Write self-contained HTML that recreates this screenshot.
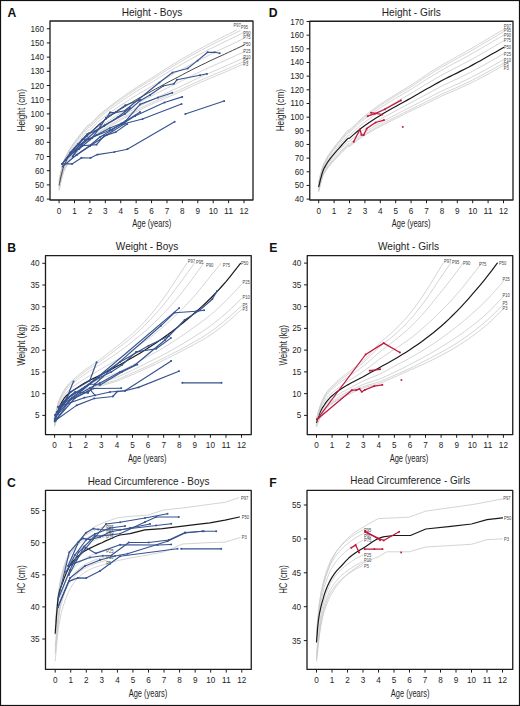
<!DOCTYPE html><html><head><meta charset="utf-8"><style>html,body{margin:0;padding:0;background:#fff;width:520px;height:706px;overflow:hidden}svg{display:block}</style></head><body><svg width="520" height="706" viewBox="0 0 520 706" font-family='"Liberation Sans", sans-serif'><rect x="0" y="0" width="520" height="706" fill="#fff"/><path d="M59.1,190.1 59.4,188.8 59.9,186.8 60.3,184.7 60.9,182.0 61.6,179.3 62.2,176.8 63.0,174.1 63.7,171.8 64.5,170.0 65.3,168.4 66.8,165.5 68.3,163.0 69.9,160.9 71.4,158.8 73.0,156.8 74.5,155.0 76.8,152.5 79.1,150.1 81.4,147.7 83.8,145.4 86.8,142.4 88.4,141.1 89.9,140.9 91.5,139.7 93.8,137.7 97.6,134.4 101.5,131.6 105.3,129.1 109.2,126.8 113.0,124.5 116.9,122.4 120.7,120.2 124.6,118.0 128.4,115.9 132.3,113.8 136.2,111.7 140.0,109.8 143.9,107.9 147.7,106.1 151.6,104.3 155.4,102.6 159.3,100.9 163.1,99.2 167.0,97.5 170.8,95.8 174.7,94.2 178.5,92.5 182.4,90.8 186.2,89.0 190.1,87.2 193.9,85.4 197.8,83.6 201.6,81.9 205.5,80.3 209.3,78.7 213.2,77.0 217.1,75.4 220.9,73.8 224.8,72.2 228.6,70.6 232.5,68.9 236.3,67.2 240.2,65.5 244.0,63.8" fill="none" stroke="#c9c9c9" stroke-width="0.8" stroke-linejoin="round" stroke-linecap="round" />
<path d="M59.1,189.5 59.4,188.2 59.9,186.1 60.3,184.1 60.9,181.3 61.6,178.6 62.2,176.1 63.0,173.4 63.7,171.2 64.5,169.3 65.3,167.7 66.8,164.8 68.3,162.3 69.9,160.1 71.4,158.0 73.0,156.0 74.5,154.1 76.8,151.6 79.1,149.2 81.4,146.8 83.8,144.4 86.8,141.4 88.4,140.1 89.9,139.9 91.5,138.7 93.8,136.6 97.6,133.2 101.5,130.4 105.3,127.9 109.2,125.5 113.0,123.2 116.9,121.0 120.7,118.8 124.6,116.6 128.4,114.4 132.3,112.3 136.2,110.2 140.0,108.3 143.9,106.3 147.7,104.5 151.6,102.7 155.4,100.9 159.3,99.1 163.1,97.4 167.0,95.7 170.8,94.0 174.7,92.2 178.5,90.5 182.4,88.8 186.2,87.0 190.1,85.1 193.9,83.3 197.8,81.5 201.6,79.8 205.5,78.1 209.3,76.5 213.2,74.8 217.1,73.2 220.9,71.6 224.8,70.0 228.6,68.3 232.5,66.6 236.3,64.9 240.2,63.2 244.0,61.4" fill="none" stroke="#c9c9c9" stroke-width="0.8" stroke-linejoin="round" stroke-linecap="round" />
<path d="M59.1,188.5 59.4,187.2 59.9,185.2 60.3,183.1 60.9,180.3 61.6,177.6 62.2,175.1 63.0,172.4 63.7,170.1 64.5,168.2 65.3,166.6 66.8,163.7 68.3,161.1 69.9,158.9 71.4,156.8 73.0,154.7 74.5,152.9 76.8,150.3 79.1,147.8 81.4,145.4 83.8,143.0 86.8,139.9 88.4,138.5 89.9,138.3 91.5,137.1 93.8,135.0 97.6,131.5 101.5,128.6 105.3,126.0 109.2,123.6 113.0,121.3 116.9,119.0 120.7,116.7 124.6,114.4 128.4,112.2 132.3,110.0 136.2,107.9 140.0,105.9 143.9,103.9 147.7,102.0 151.6,100.1 155.4,98.3 159.3,96.4 163.1,94.6 167.0,92.8 170.8,91.0 174.7,89.3 178.5,87.5 182.4,85.7 186.2,83.8 190.1,81.9 193.9,80.1 197.8,78.3 201.6,76.5 205.5,74.8 209.3,73.1 213.2,71.4 217.1,69.8 220.9,68.1 224.8,66.5 228.6,64.8 232.5,63.1 236.3,61.3 240.2,59.6 244.0,57.8" fill="none" stroke="#c9c9c9" stroke-width="0.8" stroke-linejoin="round" stroke-linecap="round" />
<path d="M59.1,186.9 59.4,185.5 59.9,183.5 60.3,181.4 60.9,178.6 61.6,175.9 62.2,173.4 63.0,170.6 63.7,168.4 64.5,166.5 65.3,164.9 66.8,161.9 68.3,159.3 69.9,157.0 71.4,154.8 73.0,152.7 74.5,150.8 76.8,148.1 79.1,145.5 81.4,143.0 83.8,140.5 86.8,137.3 88.4,135.9 89.9,135.6 91.5,134.3 93.8,132.2 97.6,128.6 101.5,125.6 105.3,122.9 109.2,120.4 113.0,117.9 116.9,115.5 120.7,113.2 124.6,110.8 128.4,108.5 132.3,106.2 136.2,104.0 140.0,101.9 143.9,99.9 147.7,97.9 151.6,95.9 155.4,93.9 159.3,92.0 163.1,90.0 167.0,88.1 170.8,86.2 174.7,84.3 178.5,82.4 182.4,80.5 186.2,78.6 190.1,76.6 193.9,74.7 197.8,72.8 201.6,71.0 205.5,69.2 209.3,67.5 213.2,65.7 217.1,64.0 220.9,62.3 224.8,60.6 228.6,58.9 232.5,57.1 236.3,55.3 240.2,53.6 244.0,51.8" fill="none" stroke="#c9c9c9" stroke-width="0.8" stroke-linejoin="round" stroke-linecap="round" />
<path d="M59.1,183.2 59.4,181.9 59.9,179.8 60.3,177.7 60.9,174.9 61.6,172.2 62.2,169.6 63.0,166.8 63.7,164.5 64.5,162.6 65.3,160.9 66.8,157.9 68.3,155.1 69.9,152.7 71.4,150.3 73.0,148.1 74.5,146.1 76.8,143.2 79.1,140.4 81.4,137.7 83.8,135.0 86.8,131.5 88.4,130.0 89.9,129.7 91.5,128.3 93.8,126.0 97.6,122.2 101.5,119.0 105.3,116.0 109.2,113.2 113.0,110.5 116.9,107.9 120.7,105.3 124.6,102.8 128.4,100.3 132.3,97.8 136.2,95.4 140.0,93.1 143.9,90.9 147.7,88.7 151.6,86.5 155.4,84.3 159.3,82.0 163.1,79.8 167.0,77.6 170.8,75.4 174.7,73.2 178.5,71.1 182.4,69.0 186.2,66.9 190.1,64.8 193.9,62.8 197.8,60.8 201.6,58.8 205.5,56.9 209.3,55.0 213.2,53.1 217.1,51.2 220.9,49.4 224.8,47.6 228.6,45.8 232.5,43.9 236.3,42.1 240.2,40.2 244.0,38.4" fill="none" stroke="#c9c9c9" stroke-width="0.8" stroke-linejoin="round" stroke-linecap="round" />
<path d="M59.1,181.6 59.4,180.2 59.9,178.2 60.3,176.0 60.9,173.2 61.6,170.5 62.2,167.9 63.0,165.1 63.7,162.8 64.5,160.8 65.3,159.2 66.8,156.1 68.3,153.2 69.9,150.7 71.4,148.3 73.0,146.1 74.5,144.0 76.8,141.0 79.1,138.1 81.4,135.3 83.8,132.5 86.8,129.0 88.4,127.4 89.9,127.0 91.5,125.6 93.8,123.2 97.6,119.3 101.5,116.0 105.3,112.9 109.2,110.0 113.0,107.2 116.9,104.5 120.7,101.8 124.6,99.1 128.4,96.5 132.3,94.0 136.2,91.5 140.0,89.2 143.9,86.9 147.7,84.6 151.6,82.3 155.4,79.9 159.3,77.5 163.1,75.2 167.0,72.8 170.8,70.5 174.7,68.3 178.5,66.0 182.4,63.8 186.2,61.7 190.1,59.5 193.9,57.4 197.8,55.3 201.6,53.3 205.5,51.3 209.3,49.3 213.2,47.4 217.1,45.5 220.9,43.6 224.8,41.7 228.6,39.9 232.5,38.0 236.3,36.1 240.2,34.2 244.0,32.3" fill="none" stroke="#c9c9c9" stroke-width="0.8" stroke-linejoin="round" stroke-linecap="round" />
<path d="M59.1,180.6 59.4,179.3 59.9,177.2 60.3,175.0 60.9,172.2 61.6,169.5 62.2,166.9 63.0,164.1 63.7,161.7 64.5,159.8 65.3,158.1 66.8,155.0 68.3,152.1 69.9,149.5 71.4,147.1 73.0,144.8 74.5,142.7 76.8,139.7 79.1,136.7 81.4,133.9 83.8,131.1 86.8,127.4 88.4,125.8 89.9,125.4 91.5,124.0 93.8,121.6 97.6,117.6 101.5,114.2 105.3,111.1 109.2,108.1 113.0,105.2 116.9,102.4 120.7,99.7 124.6,97.0 128.4,94.3 132.3,91.7 136.2,89.2 140.0,86.8 143.9,84.5 147.7,82.1 151.6,79.8 155.4,77.3 159.3,74.9 163.1,72.4 167.0,70.0 170.8,67.6 174.7,65.3 178.5,63.0 182.4,60.7 186.2,58.5 190.1,56.3 193.9,54.2 197.8,52.1 201.6,50.0 205.5,48.0 209.3,46.0 213.2,44.0 217.1,42.0 220.9,40.1 224.8,38.2 228.6,36.3 232.5,34.4 236.3,32.5 240.2,30.6" fill="none" stroke="#c9c9c9" stroke-width="0.8" stroke-linejoin="round" stroke-linecap="round" />
<path d="M59.1,180.0 59.4,178.6 59.9,176.5 60.3,174.4 60.9,171.6 61.6,168.8 62.2,166.2 63.0,163.4 63.7,161.0 64.5,159.1 65.3,157.4 66.8,154.3 68.3,151.4 69.9,148.8 71.4,146.3 73.0,144.0 74.5,141.9 76.8,138.8 79.1,135.8 81.4,133.0 83.8,130.1 86.8,126.4 88.4,124.8 89.9,124.4 91.5,122.9 93.8,120.5 97.6,116.5 101.5,113.0 105.3,109.8 109.2,106.9 113.0,103.9 116.9,101.1 120.7,98.3 124.6,95.6 128.4,92.9 132.3,90.3 136.2,87.7 140.0,85.3 143.9,82.9 147.7,80.5 151.6,78.1 155.4,75.6 159.3,73.1 163.1,70.6 167.0,68.1 170.8,65.7 174.7,63.4 178.5,61.0 182.4,58.7 186.2,56.5 190.1,54.3 193.9,52.1 197.8,50.0 201.6,47.9 205.5,45.8 209.3,43.8 213.2,41.8 217.1,39.8 220.9,37.9 224.8,35.9 228.6,34.0 232.5,32.1 236.3,30.2" fill="none" stroke="#c9c9c9" stroke-width="0.8" stroke-linejoin="round" stroke-linecap="round" />
<path d="M59.1,185.0 59.4,183.7 59.9,181.7 60.3,179.6 60.9,176.8 61.6,174.0 62.2,171.5 63.0,168.7 63.7,166.4 64.5,164.5 65.3,162.9 66.8,159.9 68.3,157.2 69.9,154.8 71.4,152.5 73.0,150.4 74.5,148.4 76.8,145.6 79.1,143.0 81.4,140.3 83.8,137.7 86.8,134.4 88.4,132.9 89.9,132.7 91.5,131.3 93.8,129.1 97.6,125.4 101.5,122.3 105.3,119.5 109.2,116.8 113.0,114.2 116.9,111.7 120.7,109.2 124.6,106.8 128.4,104.4 132.3,102.0 136.2,99.7 140.0,97.5 143.9,95.4 147.7,93.3 151.6,91.2 155.4,89.1 159.3,87.0 163.1,84.9 167.0,82.8 170.8,80.8 174.7,78.8 178.5,76.8 182.4,74.7 186.2,72.7 190.1,70.7 193.9,68.7 197.8,66.8 201.6,64.9 205.5,63.1 209.3,61.2 213.2,59.4 217.1,57.6 220.9,55.9 224.8,54.1 228.6,52.3 232.5,50.5 236.3,48.7 240.2,46.9 244.0,45.1" fill="none" stroke="#3a3a3a" stroke-width="0.95" stroke-linejoin="round" stroke-linecap="round" />
<text x="233.4" y="27.3" font-size="4.9" fill="#444" textLength="7.3" lengthAdjust="spacingAndGlyphs">P97</text>
<text x="240.7" y="28.6" font-size="4.9" fill="#444" textLength="7.3" lengthAdjust="spacingAndGlyphs">P95</text>
<text x="243.3" y="34.5" font-size="4.9" fill="#444" textLength="7.3" lengthAdjust="spacingAndGlyphs">P90</text>
<text x="243.3" y="39.0" font-size="4.9" fill="#444" textLength="7.3" lengthAdjust="spacingAndGlyphs">P75</text>
<text x="243.3" y="46.4" font-size="4.9" fill="#444" textLength="7.3" lengthAdjust="spacingAndGlyphs">P50</text>
<text x="243.3" y="52.8" font-size="4.9" fill="#444" textLength="7.3" lengthAdjust="spacingAndGlyphs">P25</text>
<text x="243.3" y="58.9" font-size="4.9" fill="#444" textLength="7.3" lengthAdjust="spacingAndGlyphs">P10</text>
<text x="243.3" y="61.9" font-size="4.9" fill="#444" textLength="4.9" lengthAdjust="spacingAndGlyphs">P5</text>
<text x="243.3" y="66.2" font-size="4.9" fill="#444" textLength="4.9" lengthAdjust="spacingAndGlyphs">P3</text>
<path d="M62.2,163.9 72.0,163.9 81.3,157.9 90.4,158.0 97.3,154.6 114.2,152.0 127.3,149.2 174.6,121.7" fill="none" stroke="#36538f" stroke-width="1.15" stroke-linejoin="round" stroke-linecap="round" />
<rect x="61.4" y="163.1" width="1.7" height="1.7" fill="#36538f"/>
<rect x="71.2" y="163.1" width="1.7" height="1.7" fill="#36538f"/>
<rect x="80.5" y="157.1" width="1.7" height="1.7" fill="#36538f"/>
<rect x="89.6" y="157.2" width="1.7" height="1.7" fill="#36538f"/>
<rect x="96.5" y="153.8" width="1.7" height="1.7" fill="#36538f"/>
<rect x="113.4" y="151.2" width="1.7" height="1.7" fill="#36538f"/>
<rect x="126.5" y="148.3" width="1.7" height="1.7" fill="#36538f"/>
<rect x="173.8" y="120.9" width="1.7" height="1.7" fill="#36538f"/>
<path d="M185.3,114.0 224.2,101.0" fill="none" stroke="#36538f" stroke-width="1.15" stroke-linejoin="round" stroke-linecap="round" />
<rect x="184.5" y="113.2" width="1.7" height="1.7" fill="#36538f"/>
<rect x="223.3" y="100.2" width="1.7" height="1.7" fill="#36538f"/>
<path d="M62.6,166.4 76.5,155.0 90.0,146.0 106.7,135.0 125.0,123.5 142.5,119.0 181.5,104.0" fill="none" stroke="#36538f" stroke-width="1.15" stroke-linejoin="round" stroke-linecap="round" />
<rect x="61.8" y="165.6" width="1.7" height="1.7" fill="#36538f"/>
<rect x="75.7" y="154.2" width="1.7" height="1.7" fill="#36538f"/>
<rect x="89.2" y="145.2" width="1.7" height="1.7" fill="#36538f"/>
<rect x="105.9" y="134.2" width="1.7" height="1.7" fill="#36538f"/>
<rect x="124.2" y="122.7" width="1.7" height="1.7" fill="#36538f"/>
<rect x="141.7" y="118.2" width="1.7" height="1.7" fill="#36538f"/>
<rect x="180.7" y="103.2" width="1.7" height="1.7" fill="#36538f"/>
<path d="M72.7,156.5 81.9,144.2 88.8,138.8 109.6,130.2 122.1,124.0 135.0,116.0 164.4,102.5 182.2,96.9" fill="none" stroke="#36538f" stroke-width="1.15" stroke-linejoin="round" stroke-linecap="round" />
<rect x="71.9" y="155.7" width="1.7" height="1.7" fill="#36538f"/>
<rect x="81.1" y="143.3" width="1.7" height="1.7" fill="#36538f"/>
<rect x="88.0" y="138.0" width="1.7" height="1.7" fill="#36538f"/>
<rect x="108.8" y="129.3" width="1.7" height="1.7" fill="#36538f"/>
<rect x="121.2" y="123.2" width="1.7" height="1.7" fill="#36538f"/>
<rect x="134.2" y="115.2" width="1.7" height="1.7" fill="#36538f"/>
<rect x="163.6" y="101.7" width="1.7" height="1.7" fill="#36538f"/>
<rect x="181.4" y="96.1" width="1.7" height="1.7" fill="#36538f"/>
<path d="M76.5,155.0 89.6,145.8 100.0,137.0 112.0,130.0 125.5,121.1 140.0,104.4 158.1,97.5 172.2,92.8" fill="none" stroke="#36538f" stroke-width="1.15" stroke-linejoin="round" stroke-linecap="round" />
<rect x="75.7" y="154.2" width="1.7" height="1.7" fill="#36538f"/>
<rect x="88.8" y="145.0" width="1.7" height="1.7" fill="#36538f"/>
<rect x="99.2" y="136.2" width="1.7" height="1.7" fill="#36538f"/>
<rect x="111.2" y="129.2" width="1.7" height="1.7" fill="#36538f"/>
<rect x="124.7" y="120.2" width="1.7" height="1.7" fill="#36538f"/>
<rect x="139.2" y="103.6" width="1.7" height="1.7" fill="#36538f"/>
<rect x="157.2" y="96.7" width="1.7" height="1.7" fill="#36538f"/>
<rect x="171.4" y="91.9" width="1.7" height="1.7" fill="#36538f"/>
<path d="M70.4,152.7 87.3,134.2 94.2,131.5 105.0,125.0 125.0,113.8 140.4,100.4 150.0,95.0 163.0,86.0 173.8,83.8 176.9,79.8 200.0,75.2 206.9,73.8" fill="none" stroke="#36538f" stroke-width="1.15" stroke-linejoin="round" stroke-linecap="round" />
<rect x="69.6" y="151.8" width="1.7" height="1.7" fill="#36538f"/>
<rect x="86.5" y="133.3" width="1.7" height="1.7" fill="#36538f"/>
<rect x="93.4" y="130.7" width="1.7" height="1.7" fill="#36538f"/>
<rect x="104.2" y="124.2" width="1.7" height="1.7" fill="#36538f"/>
<rect x="124.2" y="113.0" width="1.7" height="1.7" fill="#36538f"/>
<rect x="139.6" y="99.6" width="1.7" height="1.7" fill="#36538f"/>
<rect x="149.2" y="94.2" width="1.7" height="1.7" fill="#36538f"/>
<rect x="162.2" y="85.2" width="1.7" height="1.7" fill="#36538f"/>
<rect x="172.9" y="82.9" width="1.7" height="1.7" fill="#36538f"/>
<rect x="176.1" y="78.9" width="1.7" height="1.7" fill="#36538f"/>
<rect x="199.2" y="74.4" width="1.7" height="1.7" fill="#36538f"/>
<rect x="206.1" y="73.0" width="1.7" height="1.7" fill="#36538f"/>
<path d="M62.2,163.9 70.4,152.7 78.0,144.0 86.8,136.0 100.0,124.4 106.0,118.7 110.1,112.4 114.4,112.9 124.6,110.8 159.4,82.5 172.5,72.5 187.5,68.5 197.5,60.6 207.6,52.3 214.6,52.3 219.7,53.3" fill="none" stroke="#36538f" stroke-width="1.15" stroke-linejoin="round" stroke-linecap="round" />
<rect x="61.4" y="163.1" width="1.7" height="1.7" fill="#36538f"/>
<rect x="69.6" y="151.8" width="1.7" height="1.7" fill="#36538f"/>
<rect x="77.2" y="143.2" width="1.7" height="1.7" fill="#36538f"/>
<rect x="86.0" y="135.2" width="1.7" height="1.7" fill="#36538f"/>
<rect x="99.2" y="123.6" width="1.7" height="1.7" fill="#36538f"/>
<rect x="105.2" y="117.9" width="1.7" height="1.7" fill="#36538f"/>
<rect x="109.2" y="111.6" width="1.7" height="1.7" fill="#36538f"/>
<rect x="113.6" y="112.1" width="1.7" height="1.7" fill="#36538f"/>
<rect x="123.8" y="110.0" width="1.7" height="1.7" fill="#36538f"/>
<rect x="158.6" y="81.7" width="1.7" height="1.7" fill="#36538f"/>
<rect x="171.7" y="71.7" width="1.7" height="1.7" fill="#36538f"/>
<rect x="186.7" y="67.7" width="1.7" height="1.7" fill="#36538f"/>
<rect x="196.7" y="59.8" width="1.7" height="1.7" fill="#36538f"/>
<rect x="206.8" y="51.4" width="1.7" height="1.7" fill="#36538f"/>
<rect x="213.8" y="51.4" width="1.7" height="1.7" fill="#36538f"/>
<rect x="218.8" y="52.4" width="1.7" height="1.7" fill="#36538f"/>
<path d="M72.7,156.5 82.0,139.5 89.6,139.0 96.5,135.0 110.0,128.0 121.2,123.5 126.0,121.0 140.0,112.0" fill="none" stroke="#36538f" stroke-width="1.15" stroke-linejoin="round" stroke-linecap="round" />
<rect x="71.9" y="155.7" width="1.7" height="1.7" fill="#36538f"/>
<rect x="81.2" y="138.7" width="1.7" height="1.7" fill="#36538f"/>
<rect x="88.8" y="138.2" width="1.7" height="1.7" fill="#36538f"/>
<rect x="95.7" y="134.2" width="1.7" height="1.7" fill="#36538f"/>
<rect x="109.2" y="127.2" width="1.7" height="1.7" fill="#36538f"/>
<rect x="120.4" y="122.7" width="1.7" height="1.7" fill="#36538f"/>
<rect x="125.2" y="120.2" width="1.7" height="1.7" fill="#36538f"/>
<rect x="139.2" y="111.2" width="1.7" height="1.7" fill="#36538f"/>
<path d="M65.5,160.0 75.0,151.0 82.0,145.8 96.5,144.6 104.0,136.0 115.7,132.1 127.2,124.0" fill="none" stroke="#36538f" stroke-width="1.15" stroke-linejoin="round" stroke-linecap="round" />
<rect x="64.7" y="159.2" width="1.7" height="1.7" fill="#36538f"/>
<rect x="74.2" y="150.2" width="1.7" height="1.7" fill="#36538f"/>
<rect x="81.2" y="145.0" width="1.7" height="1.7" fill="#36538f"/>
<rect x="95.7" y="143.8" width="1.7" height="1.7" fill="#36538f"/>
<rect x="103.2" y="135.2" width="1.7" height="1.7" fill="#36538f"/>
<rect x="114.9" y="131.2" width="1.7" height="1.7" fill="#36538f"/>
<rect x="126.4" y="123.2" width="1.7" height="1.7" fill="#36538f"/>
<path d="M79.0,149.0 92.0,138.0 100.0,127.3 106.0,117.7 115.7,111.9 125.3,105.2 140.0,100.0" fill="none" stroke="#36538f" stroke-width="1.15" stroke-linejoin="round" stroke-linecap="round" />
<rect x="78.2" y="148.2" width="1.7" height="1.7" fill="#36538f"/>
<rect x="91.2" y="137.2" width="1.7" height="1.7" fill="#36538f"/>
<rect x="99.2" y="126.5" width="1.7" height="1.7" fill="#36538f"/>
<rect x="105.2" y="116.9" width="1.7" height="1.7" fill="#36538f"/>
<rect x="114.9" y="111.1" width="1.7" height="1.7" fill="#36538f"/>
<rect x="124.5" y="104.4" width="1.7" height="1.7" fill="#36538f"/>
<rect x="139.2" y="99.2" width="1.7" height="1.7" fill="#36538f"/>
<path d="M62.2,163.9 68.0,157.0 75.0,149.5 85.0,140.5 96.0,131.0 104.0,126.0 118.0,117.0 130.0,108.0" fill="none" stroke="#36538f" stroke-width="1.15" stroke-linejoin="round" stroke-linecap="round" />
<rect x="61.4" y="163.1" width="1.7" height="1.7" fill="#36538f"/>
<rect x="67.2" y="156.2" width="1.7" height="1.7" fill="#36538f"/>
<rect x="74.2" y="148.7" width="1.7" height="1.7" fill="#36538f"/>
<rect x="84.2" y="139.7" width="1.7" height="1.7" fill="#36538f"/>
<rect x="95.2" y="130.2" width="1.7" height="1.7" fill="#36538f"/>
<rect x="103.2" y="125.2" width="1.7" height="1.7" fill="#36538f"/>
<rect x="117.2" y="116.2" width="1.7" height="1.7" fill="#36538f"/>
<rect x="129.2" y="107.2" width="1.7" height="1.7" fill="#36538f"/>
<text x="7.40" y="17.00" font-size="12.2" text-anchor="start" font-weight="bold" fill="#111" >A</text>
<text x="152.00" y="15.80" font-size="10.5" text-anchor="middle" font-weight="normal" fill="#1e1e1e" textLength="60.60" lengthAdjust="spacingAndGlyphs" >Height - Boys</text>
<line x1="46.80" y1="199.10" x2="50.00" y2="199.10" stroke="#1c1c1c" stroke-width="1"/>
<text x="44.10" y="202.10" font-size="9.2" text-anchor="end" font-weight="normal" fill="#1e1e1e" textLength="9.10" lengthAdjust="spacingAndGlyphs" >40</text>
<line x1="46.80" y1="184.90" x2="50.00" y2="184.90" stroke="#1c1c1c" stroke-width="1"/>
<text x="44.10" y="187.90" font-size="9.2" text-anchor="end" font-weight="normal" fill="#1e1e1e" textLength="9.10" lengthAdjust="spacingAndGlyphs" >50</text>
<line x1="46.80" y1="170.71" x2="50.00" y2="170.71" stroke="#1c1c1c" stroke-width="1"/>
<text x="44.10" y="173.71" font-size="9.2" text-anchor="end" font-weight="normal" fill="#1e1e1e" textLength="9.10" lengthAdjust="spacingAndGlyphs" >60</text>
<line x1="46.80" y1="156.51" x2="50.00" y2="156.51" stroke="#1c1c1c" stroke-width="1"/>
<text x="44.10" y="159.51" font-size="9.2" text-anchor="end" font-weight="normal" fill="#1e1e1e" textLength="9.10" lengthAdjust="spacingAndGlyphs" >70</text>
<line x1="46.80" y1="142.32" x2="50.00" y2="142.32" stroke="#1c1c1c" stroke-width="1"/>
<text x="44.10" y="145.32" font-size="9.2" text-anchor="end" font-weight="normal" fill="#1e1e1e" textLength="9.10" lengthAdjust="spacingAndGlyphs" >80</text>
<line x1="46.80" y1="128.12" x2="50.00" y2="128.12" stroke="#1c1c1c" stroke-width="1"/>
<text x="44.10" y="131.12" font-size="9.2" text-anchor="end" font-weight="normal" fill="#1e1e1e" textLength="9.10" lengthAdjust="spacingAndGlyphs" >90</text>
<line x1="46.80" y1="113.92" x2="50.00" y2="113.92" stroke="#1c1c1c" stroke-width="1"/>
<text x="44.10" y="116.92" font-size="9.2" text-anchor="end" font-weight="normal" fill="#1e1e1e" textLength="13.65" lengthAdjust="spacingAndGlyphs" >100</text>
<line x1="46.80" y1="99.73" x2="50.00" y2="99.73" stroke="#1c1c1c" stroke-width="1"/>
<text x="44.10" y="102.73" font-size="9.2" text-anchor="end" font-weight="normal" fill="#1e1e1e" textLength="13.65" lengthAdjust="spacingAndGlyphs" >110</text>
<line x1="46.80" y1="85.53" x2="50.00" y2="85.53" stroke="#1c1c1c" stroke-width="1"/>
<text x="44.10" y="88.53" font-size="9.2" text-anchor="end" font-weight="normal" fill="#1e1e1e" textLength="13.65" lengthAdjust="spacingAndGlyphs" >120</text>
<line x1="46.80" y1="71.34" x2="50.00" y2="71.34" stroke="#1c1c1c" stroke-width="1"/>
<text x="44.10" y="74.34" font-size="9.2" text-anchor="end" font-weight="normal" fill="#1e1e1e" textLength="13.65" lengthAdjust="spacingAndGlyphs" >130</text>
<line x1="46.80" y1="57.14" x2="50.00" y2="57.14" stroke="#1c1c1c" stroke-width="1"/>
<text x="44.10" y="60.14" font-size="9.2" text-anchor="end" font-weight="normal" fill="#1e1e1e" textLength="13.65" lengthAdjust="spacingAndGlyphs" >140</text>
<line x1="46.80" y1="42.95" x2="50.00" y2="42.95" stroke="#1c1c1c" stroke-width="1"/>
<text x="44.10" y="45.95" font-size="9.2" text-anchor="end" font-weight="normal" fill="#1e1e1e" textLength="13.65" lengthAdjust="spacingAndGlyphs" >150</text>
<line x1="46.80" y1="28.75" x2="50.00" y2="28.75" stroke="#1c1c1c" stroke-width="1"/>
<text x="44.10" y="31.75" font-size="9.2" text-anchor="end" font-weight="normal" fill="#1e1e1e" textLength="13.65" lengthAdjust="spacingAndGlyphs" >160</text>
<line x1="59.10" y1="200.00" x2="59.10" y2="203.20" stroke="#1c1c1c" stroke-width="1"/>
<text x="59.10" y="213.50" font-size="9.2" text-anchor="middle" font-weight="normal" fill="#1e1e1e" textLength="4.55" lengthAdjust="spacingAndGlyphs" >0</text>
<line x1="74.51" y1="200.00" x2="74.51" y2="203.20" stroke="#1c1c1c" stroke-width="1"/>
<text x="74.51" y="213.50" font-size="9.2" text-anchor="middle" font-weight="normal" fill="#1e1e1e" textLength="4.55" lengthAdjust="spacingAndGlyphs" >1</text>
<line x1="89.92" y1="200.00" x2="89.92" y2="203.20" stroke="#1c1c1c" stroke-width="1"/>
<text x="89.92" y="213.50" font-size="9.2" text-anchor="middle" font-weight="normal" fill="#1e1e1e" textLength="4.55" lengthAdjust="spacingAndGlyphs" >2</text>
<line x1="105.33" y1="200.00" x2="105.33" y2="203.20" stroke="#1c1c1c" stroke-width="1"/>
<text x="105.33" y="213.50" font-size="9.2" text-anchor="middle" font-weight="normal" fill="#1e1e1e" textLength="4.55" lengthAdjust="spacingAndGlyphs" >3</text>
<line x1="120.74" y1="200.00" x2="120.74" y2="203.20" stroke="#1c1c1c" stroke-width="1"/>
<text x="120.74" y="213.50" font-size="9.2" text-anchor="middle" font-weight="normal" fill="#1e1e1e" textLength="4.55" lengthAdjust="spacingAndGlyphs" >4</text>
<line x1="136.15" y1="200.00" x2="136.15" y2="203.20" stroke="#1c1c1c" stroke-width="1"/>
<text x="136.15" y="213.50" font-size="9.2" text-anchor="middle" font-weight="normal" fill="#1e1e1e" textLength="4.55" lengthAdjust="spacingAndGlyphs" >5</text>
<line x1="151.56" y1="200.00" x2="151.56" y2="203.20" stroke="#1c1c1c" stroke-width="1"/>
<text x="151.56" y="213.50" font-size="9.2" text-anchor="middle" font-weight="normal" fill="#1e1e1e" textLength="4.55" lengthAdjust="spacingAndGlyphs" >6</text>
<line x1="166.97" y1="200.00" x2="166.97" y2="203.20" stroke="#1c1c1c" stroke-width="1"/>
<text x="166.97" y="213.50" font-size="9.2" text-anchor="middle" font-weight="normal" fill="#1e1e1e" textLength="4.55" lengthAdjust="spacingAndGlyphs" >7</text>
<line x1="182.38" y1="200.00" x2="182.38" y2="203.20" stroke="#1c1c1c" stroke-width="1"/>
<text x="182.38" y="213.50" font-size="9.2" text-anchor="middle" font-weight="normal" fill="#1e1e1e" textLength="4.55" lengthAdjust="spacingAndGlyphs" >8</text>
<line x1="197.79" y1="200.00" x2="197.79" y2="203.20" stroke="#1c1c1c" stroke-width="1"/>
<text x="197.79" y="213.50" font-size="9.2" text-anchor="middle" font-weight="normal" fill="#1e1e1e" textLength="4.55" lengthAdjust="spacingAndGlyphs" >9</text>
<line x1="213.20" y1="200.00" x2="213.20" y2="203.20" stroke="#1c1c1c" stroke-width="1"/>
<text x="213.20" y="213.50" font-size="9.2" text-anchor="middle" font-weight="normal" fill="#1e1e1e" textLength="9.10" lengthAdjust="spacingAndGlyphs" >10</text>
<line x1="228.61" y1="200.00" x2="228.61" y2="203.20" stroke="#1c1c1c" stroke-width="1"/>
<text x="228.61" y="213.50" font-size="9.2" text-anchor="middle" font-weight="normal" fill="#1e1e1e" textLength="9.10" lengthAdjust="spacingAndGlyphs" >11</text>
<line x1="244.02" y1="200.00" x2="244.02" y2="203.20" stroke="#1c1c1c" stroke-width="1"/>
<text x="244.02" y="213.50" font-size="9.2" text-anchor="middle" font-weight="normal" fill="#1e1e1e" textLength="9.10" lengthAdjust="spacingAndGlyphs" >12</text>
<text x="151.70" y="226.80" font-size="11" text-anchor="middle" font-weight="normal" fill="#1e1e1e" textLength="39.00" lengthAdjust="spacingAndGlyphs" >Age (years)</text>
<text x="0" y="0" font-size="11" text-anchor="middle" fill="#1e1e1e" textLength="42.50" lengthAdjust="spacingAndGlyphs" transform="translate(25.30,110.30) rotate(-90)">Height (cm)</text>
<rect x="50.00" y="21.00" width="203.00" height="179.00" fill="none" stroke="#1c1c1c" stroke-width="1.3" stroke-linejoin="round"/>
<path d="M318.7,191.6 319.0,190.4 319.5,188.6 319.9,186.7 320.5,184.2 321.2,181.8 321.8,179.6 322.6,177.2 323.3,175.2 324.1,173.7 324.9,172.3 326.4,169.9 327.9,167.7 329.5,165.8 331.0,163.9 332.6,162.2 334.1,160.6 336.4,158.1 338.7,155.7 341.0,153.4 343.3,151.0 346.4,147.9 348.0,146.5 349.5,146.4 351.0,145.3 353.3,143.5 357.2,140.5 361.1,137.7 364.9,135.2 368.8,132.9 372.6,130.7 376.4,128.5 380.3,126.4 384.1,124.4 388.0,122.4 391.9,120.5 395.7,118.6 399.6,116.6 403.4,114.7 407.2,112.7 411.1,110.9 414.9,109.0 418.8,107.2 422.6,105.4 426.5,103.5 430.4,101.6 434.2,99.7 438.1,97.8 441.9,95.9 445.8,94.2 449.6,92.6 453.4,91.0 457.3,89.3 461.1,87.6 465.0,85.8 468.9,84.0 472.7,82.2 476.5,80.2 480.4,78.2 484.2,76.2 488.1,74.1 491.9,71.9 495.8,69.8 499.6,67.6 503.5,65.4" fill="none" stroke="#c9c9c9" stroke-width="0.8" stroke-linejoin="round" stroke-linecap="round" />
<path d="M318.7,190.9 319.0,189.8 319.5,187.9 319.9,186.1 320.5,183.6 321.2,181.2 321.8,179.0 322.6,176.5 323.3,174.6 324.1,173.0 324.9,171.6 326.4,169.2 327.9,166.9 329.5,165.0 331.0,163.1 332.6,161.4 334.1,159.7 336.4,157.3 338.7,154.8 341.0,152.4 343.3,150.0 346.4,146.9 348.0,145.5 349.5,145.4 351.0,144.3 353.3,142.4 357.2,139.3 361.1,136.6 364.9,134.0 368.8,131.7 372.6,129.4 376.4,127.2 380.3,125.0 384.1,122.9 388.0,121.0 391.9,119.0 395.7,117.0 399.6,115.1 403.4,113.1 407.2,111.2 411.1,109.2 414.9,107.3 418.8,105.5 422.6,103.6 426.5,101.7 430.4,99.8 434.2,97.8 438.1,95.9 441.9,94.0 445.8,92.3 449.6,90.6 453.4,89.0 457.3,87.3 461.1,85.5 465.0,83.7 468.9,81.9 472.7,80.0 476.5,78.0 480.4,76.0 484.2,73.9 488.1,71.8 491.9,69.7 495.8,67.5 499.6,65.4 503.5,63.2" fill="none" stroke="#c9c9c9" stroke-width="0.8" stroke-linejoin="round" stroke-linecap="round" />
<path d="M318.7,190.0 319.0,188.8 319.5,187.0 319.9,185.1 320.5,182.6 321.2,180.2 321.8,178.0 322.6,175.6 323.3,173.6 324.1,172.0 324.9,170.6 326.4,168.1 327.9,165.8 329.5,163.8 331.0,161.9 332.6,160.1 334.1,158.4 336.4,155.9 338.7,153.5 341.0,151.0 343.3,148.6 346.4,145.4 348.0,144.0 349.5,143.8 351.0,142.6 353.3,140.8 357.2,137.6 361.1,134.7 364.9,132.1 368.8,129.7 372.6,127.4 376.4,125.1 380.3,122.9 384.1,120.8 388.0,118.7 391.9,116.7 395.7,114.7 399.6,112.7 403.4,110.7 407.2,108.7 411.1,106.8 414.9,104.8 418.8,102.8 422.6,100.9 426.5,98.9 430.4,96.9 434.2,94.9 438.1,92.9 441.9,91.0 445.8,89.2 449.6,87.5 453.4,85.8 457.3,84.1 461.1,82.3 465.0,80.5 468.9,78.6 472.7,76.7 476.5,74.7 480.4,72.6 484.2,70.5 488.1,68.4 491.9,66.3 495.8,64.1 499.6,61.9 503.5,59.7" fill="none" stroke="#c9c9c9" stroke-width="0.8" stroke-linejoin="round" stroke-linecap="round" />
<path d="M318.7,188.4 319.0,187.2 319.5,185.4 319.9,183.5 320.5,181.0 321.2,178.6 321.8,176.4 322.6,173.9 323.3,171.9 324.1,170.2 324.9,168.8 326.4,166.3 327.9,163.9 329.5,161.9 331.0,159.9 332.6,158.0 334.1,156.3 336.4,153.7 338.7,151.1 341.0,148.6 343.3,146.1 346.4,142.8 348.0,141.3 349.5,141.1 351.0,139.9 353.3,138.0 357.2,134.7 361.1,131.7 364.9,129.0 368.8,126.4 372.6,124.0 376.4,121.6 380.3,119.3 384.1,117.1 388.0,115.0 391.9,112.9 395.7,110.8 399.6,108.7 403.4,106.7 407.2,104.7 411.1,102.6 414.9,100.5 418.8,98.5 422.6,96.4 426.5,94.3 430.4,92.2 434.2,90.1 438.1,88.0 441.9,86.0 445.8,84.2 449.6,82.4 453.4,80.6 457.3,78.8 461.1,76.9 465.0,75.0 468.9,73.1 472.7,71.1 476.5,69.1 480.4,67.0 484.2,64.8 488.1,62.7 491.9,60.5 495.8,58.3 499.6,56.1 503.5,53.9" fill="none" stroke="#c9c9c9" stroke-width="0.8" stroke-linejoin="round" stroke-linecap="round" />
<path d="M318.7,184.9 319.0,183.7 319.5,181.9 319.9,180.0 320.5,177.5 321.2,175.0 321.8,172.7 322.6,170.2 323.3,168.1 324.1,166.4 324.9,164.9 326.4,162.2 327.9,159.7 329.5,157.5 331.0,155.4 332.6,153.4 334.1,151.5 336.4,148.7 338.7,146.0 341.0,143.4 343.3,140.7 346.4,137.1 348.0,135.5 349.5,135.2 351.0,133.9 353.3,131.8 357.2,128.3 361.1,125.0 364.9,122.0 368.8,119.2 372.6,116.5 376.4,113.9 380.3,111.4 384.1,109.0 388.0,106.7 391.9,104.4 395.7,102.1 399.6,99.9 403.4,97.8 407.2,95.6 411.1,93.4 414.9,91.1 418.8,88.7 422.6,86.3 426.5,84.0 430.4,81.7 434.2,79.4 438.1,77.2 441.9,75.0 445.8,72.9 449.6,70.9 453.4,69.0 457.3,67.0 461.1,64.9 465.0,62.9 468.9,60.9 472.7,58.8 476.5,56.6 480.4,54.4 484.2,52.2 488.1,50.0 491.9,47.7 495.8,45.5 499.6,43.3 503.5,41.0" fill="none" stroke="#c9c9c9" stroke-width="0.8" stroke-linejoin="round" stroke-linecap="round" />
<path d="M318.7,183.3 319.0,182.1 319.5,180.3 319.9,178.4 320.5,175.8 321.2,173.4 321.8,171.1 322.6,168.5 323.3,166.5 324.1,164.7 324.9,163.2 326.4,160.4 327.9,157.8 329.5,155.6 331.0,153.4 332.6,151.3 334.1,149.3 336.4,146.5 338.7,143.7 341.0,141.0 343.3,138.2 346.4,134.5 348.0,132.9 349.5,132.6 351.0,131.2 353.3,129.0 357.2,125.3 361.1,121.9 364.9,118.8 368.8,115.9 372.6,113.1 376.4,110.4 380.3,107.8 384.1,105.3 388.0,102.9 391.9,100.6 395.7,98.2 399.6,96.0 403.4,93.8 407.2,91.6 411.1,89.3 414.9,86.8 418.8,84.3 422.6,81.8 426.5,79.3 430.4,76.9 434.2,74.6 438.1,72.3 441.9,70.0 445.8,67.9 449.6,65.8 453.4,63.7 457.3,61.7 461.1,59.6 465.0,57.5 468.9,55.4 472.7,53.2 476.5,51.0 480.4,48.8 484.2,46.5 488.1,44.3 491.9,42.0 495.8,39.7 499.6,37.5 503.5,35.2" fill="none" stroke="#c9c9c9" stroke-width="0.8" stroke-linejoin="round" stroke-linecap="round" />
<path d="M318.7,182.4 319.0,181.2 319.5,179.3 319.9,177.4 320.5,174.9 321.2,172.4 321.8,170.1 322.6,167.6 323.3,165.5 324.1,163.7 324.9,162.1 326.4,159.3 327.9,156.7 329.5,154.4 331.0,152.2 332.6,150.0 334.1,148.0 336.4,145.2 338.7,142.3 341.0,139.5 343.3,136.7 346.4,133.0 348.0,131.4 349.5,131.0 351.0,129.6 353.3,127.4 357.2,123.6 361.1,120.1 364.9,116.9 368.8,114.0 372.6,111.1 376.4,108.4 380.3,105.7 384.1,103.1 388.0,100.7 391.9,98.3 395.7,95.9 399.6,93.6 403.4,91.4 407.2,89.1 411.1,86.8 414.9,84.3 418.8,81.7 422.6,79.1 426.5,76.5 430.4,74.1 434.2,71.7 438.1,69.3 441.9,67.0 445.8,64.8 449.6,62.7 453.4,60.6 457.3,58.5 461.1,56.3 465.0,54.2 468.9,52.1 472.7,49.9 476.5,47.7 480.4,45.4 484.2,43.1 488.1,40.8 491.9,38.6 495.8,36.3 499.6,34.0 503.5,31.7" fill="none" stroke="#c9c9c9" stroke-width="0.8" stroke-linejoin="round" stroke-linecap="round" />
<path d="M318.7,181.8 319.0,180.6 319.5,178.7 319.9,176.8 320.5,174.3 321.2,171.8 321.8,169.5 322.6,166.9 323.3,164.8 324.1,163.0 324.9,161.5 326.4,158.6 327.9,156.0 329.5,153.6 331.0,151.4 332.6,149.2 334.1,147.2 336.4,144.3 338.7,141.4 341.0,138.6 343.3,135.8 346.4,132.0 348.0,130.3 349.5,129.9 351.0,128.6 353.3,126.3 357.2,122.5 361.1,119.0 364.9,115.7 368.8,112.7 372.6,109.8 376.4,107.0 380.3,104.3 384.1,101.7 388.0,99.2 391.9,96.8 395.7,94.4 399.6,92.1 403.4,89.8 407.2,87.5 411.1,85.2 414.9,82.6 418.8,80.0 422.6,77.3 426.5,74.7 430.4,72.2 434.2,69.8 438.1,67.4 441.9,65.1 445.8,62.9 449.6,60.7 453.4,58.6 457.3,56.4 461.1,54.3 465.0,52.1 468.9,49.9 472.7,47.7 476.5,45.5 480.4,43.2 484.2,40.9 488.1,38.6 491.9,36.3 495.8,34.0 499.6,31.8 503.5,29.5" fill="none" stroke="#c9c9c9" stroke-width="0.8" stroke-linejoin="round" stroke-linecap="round" />
<path d="M318.7,186.7 319.0,185.5 319.5,183.6 319.9,181.8 320.5,179.2 321.2,176.8 321.8,174.5 322.6,172.1 323.3,170.0 324.1,168.3 324.9,166.9 326.4,164.3 327.9,161.8 329.5,159.7 331.0,157.6 332.6,155.7 334.1,153.9 336.4,151.2 338.7,148.6 341.0,146.0 343.3,143.4 346.4,140.0 348.0,138.4 349.5,138.2 351.0,136.9 353.3,134.9 357.2,131.5 361.1,128.3 364.9,125.5 368.8,122.8 372.6,120.3 376.4,117.8 380.3,115.4 384.1,113.0 388.0,110.8 391.9,108.6 395.7,106.5 399.6,104.3 403.4,102.2 407.2,100.1 411.1,98.0 414.9,95.8 418.8,93.6 422.6,91.3 426.5,89.1 430.4,86.9 434.2,84.7 438.1,82.6 441.9,80.5 445.8,78.5 449.6,76.6 453.4,74.8 457.3,72.9 461.1,70.9 465.0,69.0 468.9,67.0 472.7,64.9 476.5,62.8 480.4,60.7 484.2,58.5 488.1,56.3 491.9,54.1 495.8,51.9 499.6,49.7 503.5,47.5" fill="none" stroke="#1a1a1a" stroke-width="1.2" stroke-linejoin="round" stroke-linecap="round" />
<text x="503.8" y="27.5" font-size="4.9" fill="#444" textLength="7.3" lengthAdjust="spacingAndGlyphs">P97</text>
<text x="503.8" y="32.2" font-size="4.9" fill="#444" textLength="7.3" lengthAdjust="spacingAndGlyphs">P95</text>
<text x="503.8" y="36.7" font-size="4.9" fill="#444" textLength="7.3" lengthAdjust="spacingAndGlyphs">P90</text>
<text x="503.8" y="42.4" font-size="4.9" fill="#444" textLength="7.3" lengthAdjust="spacingAndGlyphs">P75</text>
<text x="503.8" y="49.4" font-size="4.9" fill="#444" textLength="7.3" lengthAdjust="spacingAndGlyphs">P50</text>
<text x="503.8" y="56.0" font-size="4.9" fill="#444" textLength="7.3" lengthAdjust="spacingAndGlyphs">P25</text>
<text x="503.8" y="62.2" font-size="4.9" fill="#444" textLength="7.3" lengthAdjust="spacingAndGlyphs">P10</text>
<text x="503.8" y="66.1" font-size="4.9" fill="#444" textLength="4.9" lengthAdjust="spacingAndGlyphs">P5</text>
<text x="503.8" y="70.4" font-size="4.9" fill="#444" textLength="4.9" lengthAdjust="spacingAndGlyphs">P3</text>
<path d="M367.6,116.2 375.0,113.6 384.9,109.3 400.9,100.4" fill="none" stroke="#c0173d" stroke-width="1.25" stroke-linejoin="round" stroke-linecap="round" />
<rect x="366.8" y="115.4" width="1.7" height="1.7" fill="#c0173d"/>
<rect x="374.1" y="112.8" width="1.7" height="1.7" fill="#c0173d"/>
<rect x="384.0" y="108.5" width="1.7" height="1.7" fill="#c0173d"/>
<rect x="400.0" y="99.6" width="1.7" height="1.7" fill="#c0173d"/>
<path d="M371.1,112.7 382.3,114.5" fill="none" stroke="#c0173d" stroke-width="1.25" stroke-linejoin="round" stroke-linecap="round" />
<rect x="370.2" y="111.9" width="1.7" height="1.7" fill="#c0173d"/>
<rect x="381.4" y="113.7" width="1.7" height="1.7" fill="#c0173d"/>
<path d="M353.6,141.8 359.9,129.5 361.5,134.8 363.7,135.1 366.8,128.6 375.6,122.5 384.0,120.1" fill="none" stroke="#c0173d" stroke-width="1.25" stroke-linejoin="round" stroke-linecap="round" />
<rect x="352.8" y="141.0" width="1.7" height="1.7" fill="#c0173d"/>
<rect x="359.0" y="128.7" width="1.7" height="1.7" fill="#c0173d"/>
<rect x="360.6" y="134.0" width="1.7" height="1.7" fill="#c0173d"/>
<rect x="362.8" y="134.2" width="1.7" height="1.7" fill="#c0173d"/>
<rect x="365.9" y="127.8" width="1.7" height="1.7" fill="#c0173d"/>
<rect x="374.8" y="121.7" width="1.7" height="1.7" fill="#c0173d"/>
<rect x="383.1" y="119.2" width="1.7" height="1.7" fill="#c0173d"/>
<rect x="401.9" y="126.1" width="1.7" height="1.7" fill="#c0173d"/>
<text x="268.80" y="17.00" font-size="12.2" text-anchor="start" font-weight="bold" fill="#111" >D</text>
<text x="411.30" y="15.50" font-size="10.5" text-anchor="middle" font-weight="normal" fill="#1e1e1e" textLength="59.00" lengthAdjust="spacingAndGlyphs" >Height - Girls</text>
<line x1="306.55" y1="199.10" x2="309.75" y2="199.10" stroke="#1c1c1c" stroke-width="1"/>
<text x="303.85" y="202.10" font-size="9.2" text-anchor="end" font-weight="normal" fill="#1e1e1e" textLength="9.10" lengthAdjust="spacingAndGlyphs" >40</text>
<line x1="306.55" y1="185.44" x2="309.75" y2="185.44" stroke="#1c1c1c" stroke-width="1"/>
<text x="303.85" y="188.44" font-size="9.2" text-anchor="end" font-weight="normal" fill="#1e1e1e" textLength="9.10" lengthAdjust="spacingAndGlyphs" >50</text>
<line x1="306.55" y1="171.78" x2="309.75" y2="171.78" stroke="#1c1c1c" stroke-width="1"/>
<text x="303.85" y="174.78" font-size="9.2" text-anchor="end" font-weight="normal" fill="#1e1e1e" textLength="9.10" lengthAdjust="spacingAndGlyphs" >60</text>
<line x1="306.55" y1="158.12" x2="309.75" y2="158.12" stroke="#1c1c1c" stroke-width="1"/>
<text x="303.85" y="161.12" font-size="9.2" text-anchor="end" font-weight="normal" fill="#1e1e1e" textLength="9.10" lengthAdjust="spacingAndGlyphs" >70</text>
<line x1="306.55" y1="144.45" x2="309.75" y2="144.45" stroke="#1c1c1c" stroke-width="1"/>
<text x="303.85" y="147.45" font-size="9.2" text-anchor="end" font-weight="normal" fill="#1e1e1e" textLength="9.10" lengthAdjust="spacingAndGlyphs" >80</text>
<line x1="306.55" y1="130.79" x2="309.75" y2="130.79" stroke="#1c1c1c" stroke-width="1"/>
<text x="303.85" y="133.79" font-size="9.2" text-anchor="end" font-weight="normal" fill="#1e1e1e" textLength="9.10" lengthAdjust="spacingAndGlyphs" >90</text>
<line x1="306.55" y1="117.13" x2="309.75" y2="117.13" stroke="#1c1c1c" stroke-width="1"/>
<text x="303.85" y="120.13" font-size="9.2" text-anchor="end" font-weight="normal" fill="#1e1e1e" textLength="13.65" lengthAdjust="spacingAndGlyphs" >100</text>
<line x1="306.55" y1="103.47" x2="309.75" y2="103.47" stroke="#1c1c1c" stroke-width="1"/>
<text x="303.85" y="106.47" font-size="9.2" text-anchor="end" font-weight="normal" fill="#1e1e1e" textLength="13.65" lengthAdjust="spacingAndGlyphs" >110</text>
<line x1="306.55" y1="89.81" x2="309.75" y2="89.81" stroke="#1c1c1c" stroke-width="1"/>
<text x="303.85" y="92.81" font-size="9.2" text-anchor="end" font-weight="normal" fill="#1e1e1e" textLength="13.65" lengthAdjust="spacingAndGlyphs" >120</text>
<line x1="306.55" y1="76.15" x2="309.75" y2="76.15" stroke="#1c1c1c" stroke-width="1"/>
<text x="303.85" y="79.15" font-size="9.2" text-anchor="end" font-weight="normal" fill="#1e1e1e" textLength="13.65" lengthAdjust="spacingAndGlyphs" >130</text>
<line x1="306.55" y1="62.48" x2="309.75" y2="62.48" stroke="#1c1c1c" stroke-width="1"/>
<text x="303.85" y="65.48" font-size="9.2" text-anchor="end" font-weight="normal" fill="#1e1e1e" textLength="13.65" lengthAdjust="spacingAndGlyphs" >140</text>
<line x1="306.55" y1="48.82" x2="309.75" y2="48.82" stroke="#1c1c1c" stroke-width="1"/>
<text x="303.85" y="51.82" font-size="9.2" text-anchor="end" font-weight="normal" fill="#1e1e1e" textLength="13.65" lengthAdjust="spacingAndGlyphs" >150</text>
<line x1="306.55" y1="35.16" x2="309.75" y2="35.16" stroke="#1c1c1c" stroke-width="1"/>
<text x="303.85" y="38.16" font-size="9.2" text-anchor="end" font-weight="normal" fill="#1e1e1e" textLength="13.65" lengthAdjust="spacingAndGlyphs" >160</text>
<line x1="306.55" y1="21.50" x2="309.75" y2="21.50" stroke="#1c1c1c" stroke-width="1"/>
<text x="303.85" y="24.50" font-size="9.2" text-anchor="end" font-weight="normal" fill="#1e1e1e" textLength="13.65" lengthAdjust="spacingAndGlyphs" >170</text>
<line x1="318.70" y1="200.00" x2="318.70" y2="203.20" stroke="#1c1c1c" stroke-width="1"/>
<text x="318.70" y="213.50" font-size="9.2" text-anchor="middle" font-weight="normal" fill="#1e1e1e" textLength="4.55" lengthAdjust="spacingAndGlyphs" >0</text>
<line x1="334.10" y1="200.00" x2="334.10" y2="203.20" stroke="#1c1c1c" stroke-width="1"/>
<text x="334.10" y="213.50" font-size="9.2" text-anchor="middle" font-weight="normal" fill="#1e1e1e" textLength="4.55" lengthAdjust="spacingAndGlyphs" >1</text>
<line x1="349.50" y1="200.00" x2="349.50" y2="203.20" stroke="#1c1c1c" stroke-width="1"/>
<text x="349.50" y="213.50" font-size="9.2" text-anchor="middle" font-weight="normal" fill="#1e1e1e" textLength="4.55" lengthAdjust="spacingAndGlyphs" >2</text>
<line x1="364.90" y1="200.00" x2="364.90" y2="203.20" stroke="#1c1c1c" stroke-width="1"/>
<text x="364.90" y="213.50" font-size="9.2" text-anchor="middle" font-weight="normal" fill="#1e1e1e" textLength="4.55" lengthAdjust="spacingAndGlyphs" >3</text>
<line x1="380.30" y1="200.00" x2="380.30" y2="203.20" stroke="#1c1c1c" stroke-width="1"/>
<text x="380.30" y="213.50" font-size="9.2" text-anchor="middle" font-weight="normal" fill="#1e1e1e" textLength="4.55" lengthAdjust="spacingAndGlyphs" >4</text>
<line x1="395.70" y1="200.00" x2="395.70" y2="203.20" stroke="#1c1c1c" stroke-width="1"/>
<text x="395.70" y="213.50" font-size="9.2" text-anchor="middle" font-weight="normal" fill="#1e1e1e" textLength="4.55" lengthAdjust="spacingAndGlyphs" >5</text>
<line x1="411.10" y1="200.00" x2="411.10" y2="203.20" stroke="#1c1c1c" stroke-width="1"/>
<text x="411.10" y="213.50" font-size="9.2" text-anchor="middle" font-weight="normal" fill="#1e1e1e" textLength="4.55" lengthAdjust="spacingAndGlyphs" >6</text>
<line x1="426.50" y1="200.00" x2="426.50" y2="203.20" stroke="#1c1c1c" stroke-width="1"/>
<text x="426.50" y="213.50" font-size="9.2" text-anchor="middle" font-weight="normal" fill="#1e1e1e" textLength="4.55" lengthAdjust="spacingAndGlyphs" >7</text>
<line x1="441.90" y1="200.00" x2="441.90" y2="203.20" stroke="#1c1c1c" stroke-width="1"/>
<text x="441.90" y="213.50" font-size="9.2" text-anchor="middle" font-weight="normal" fill="#1e1e1e" textLength="4.55" lengthAdjust="spacingAndGlyphs" >8</text>
<line x1="457.30" y1="200.00" x2="457.30" y2="203.20" stroke="#1c1c1c" stroke-width="1"/>
<text x="457.30" y="213.50" font-size="9.2" text-anchor="middle" font-weight="normal" fill="#1e1e1e" textLength="4.55" lengthAdjust="spacingAndGlyphs" >9</text>
<line x1="472.70" y1="200.00" x2="472.70" y2="203.20" stroke="#1c1c1c" stroke-width="1"/>
<text x="472.70" y="213.50" font-size="9.2" text-anchor="middle" font-weight="normal" fill="#1e1e1e" textLength="9.10" lengthAdjust="spacingAndGlyphs" >10</text>
<line x1="488.10" y1="200.00" x2="488.10" y2="203.20" stroke="#1c1c1c" stroke-width="1"/>
<text x="488.10" y="213.50" font-size="9.2" text-anchor="middle" font-weight="normal" fill="#1e1e1e" textLength="9.10" lengthAdjust="spacingAndGlyphs" >11</text>
<line x1="503.50" y1="200.00" x2="503.50" y2="203.20" stroke="#1c1c1c" stroke-width="1"/>
<text x="503.50" y="213.50" font-size="9.2" text-anchor="middle" font-weight="normal" fill="#1e1e1e" textLength="9.10" lengthAdjust="spacingAndGlyphs" >12</text>
<text x="411.10" y="226.80" font-size="11" text-anchor="middle" font-weight="normal" fill="#1e1e1e" textLength="38.70" lengthAdjust="spacingAndGlyphs" >Age (years)</text>
<text x="0" y="0" font-size="11" text-anchor="middle" fill="#1e1e1e" textLength="42.20" lengthAdjust="spacingAndGlyphs" transform="translate(284.30,110.20) rotate(-90)">Height (cm)</text>
<rect x="309.75" y="21.25" width="203.25" height="178.75" fill="none" stroke="#1c1c1c" stroke-width="1.3" stroke-linejoin="round"/>
<path d="M54.6,426.3 54.9,425.4 55.4,424.0 55.8,422.7 56.5,420.8 57.1,419.0 57.7,417.3 58.5,415.4 59.3,413.7 60.1,412.2 60.8,410.9 62.4,408.4 63.9,406.5 65.5,404.8 67.1,403.4 68.6,402.2 70.2,401.1 72.5,399.4 74.9,397.8 77.2,396.3 79.5,395.0 82.6,393.4 84.2,392.6 85.8,391.9 87.3,391.3 89.7,390.3 93.6,388.7 97.4,387.3 101.3,385.8 105.2,384.6 109.1,383.5 113.0,382.4 116.9,381.1 120.8,379.6 124.7,377.9 128.6,376.3 132.5,374.6 136.4,372.9 140.3,371.1 144.2,369.4 148.1,367.6 152.0,365.8 155.9,364.0 159.8,362.1 163.7,360.2 167.6,358.3 171.4,356.4 175.3,354.4 179.2,352.4 183.1,350.4 187.0,348.3 190.9,346.3 194.8,344.1 198.7,342.0 202.6,339.8 206.5,337.5 210.4,335.0 214.3,332.3 218.2,329.4 222.1,326.4 226.0,323.3 229.9,319.9 233.8,316.5 237.7,312.9 241.6,309.4" fill="none" stroke="#c9c9c9" stroke-width="0.8" stroke-linejoin="round" stroke-linecap="round" />
<path d="M54.6,425.8 54.9,424.9 55.4,423.5 55.8,422.1 56.5,420.1 57.1,418.3 57.7,416.5 58.5,414.5 59.3,412.8 60.1,411.3 60.8,410.0 62.4,407.6 63.9,405.6 65.5,404.0 67.1,402.5 68.6,401.0 70.2,399.8 72.5,398.2 74.9,396.8 77.2,395.4 79.5,394.1 82.6,392.2 84.2,391.4 85.8,390.6 87.3,389.9 89.7,389.0 93.6,387.4 97.4,385.9 101.3,384.5 105.2,383.3 109.1,382.2 113.0,381.1 116.9,379.8 120.8,378.2 124.7,376.4 128.6,374.6 132.5,372.8 136.4,371.1 140.3,369.4 144.2,367.7 148.1,365.9 152.0,364.0 155.9,362.0 159.8,360.0 163.7,358.0 167.6,356.1 171.4,354.2 175.3,352.2 179.2,350.2 183.1,348.1 187.0,346.0 190.9,343.8 194.8,341.5 198.7,339.3 202.6,337.0 206.5,334.6 210.4,332.0 214.3,329.1 218.2,326.1 222.1,323.0 226.0,319.8 229.9,316.4 233.8,312.9 237.7,309.4 241.6,305.9" fill="none" stroke="#c9c9c9" stroke-width="0.8" stroke-linejoin="round" stroke-linecap="round" />
<path d="M54.6,425.0 54.9,424.0 55.4,422.5 55.8,421.0 56.5,419.0 57.1,417.1 57.7,415.3 58.5,413.2 59.3,411.5 60.1,410.0 60.8,408.7 62.4,406.3 63.9,404.1 65.5,402.3 67.1,400.7 68.6,399.2 70.2,398.0 72.5,396.5 74.9,395.0 77.2,393.7 79.5,392.3 82.6,390.5 84.2,389.7 85.8,388.9 87.3,388.2 89.7,387.1 93.6,385.5 97.4,383.9 101.3,382.4 105.2,381.0 109.1,379.8 113.0,378.6 116.9,377.2 120.8,375.6 124.7,373.8 128.6,372.0 132.5,370.2 136.4,368.3 140.3,366.3 144.2,364.4 148.1,362.4 152.0,360.4 155.9,358.5 159.8,356.6 163.7,354.6 167.6,352.5 171.4,350.3 175.3,348.1 179.2,345.9 183.1,343.6 187.0,341.2 190.9,338.8 194.8,336.3 198.7,333.8 202.6,331.3 206.5,328.7 210.4,325.9 214.3,322.9 218.2,319.8 222.1,316.6 226.0,313.3 229.9,309.7 233.8,306.0 237.7,302.2 241.6,298.5" fill="none" stroke="#c9c9c9" stroke-width="0.8" stroke-linejoin="round" stroke-linecap="round" />
<path d="M54.6,423.2 54.9,422.2 55.4,420.7 55.8,419.1 56.5,417.1 57.1,415.1 57.7,413.2 58.5,411.1 59.3,409.3 60.1,407.8 60.8,406.5 62.4,404.1 63.9,401.8 65.5,399.8 67.1,398.1 68.6,396.6 70.2,395.4 72.5,393.7 74.9,392.2 77.2,390.7 79.5,389.3 82.6,387.5 84.2,386.6 85.8,385.8 87.3,385.1 89.7,383.9 93.6,382.0 97.4,380.2 101.3,378.5 105.2,377.0 109.1,375.7 113.0,374.3 116.9,372.8 120.8,371.0 124.7,369.1 128.6,367.1 132.5,365.0 136.4,362.9 140.3,360.7 144.2,358.5 148.1,356.3 152.0,354.2 155.9,352.0 159.8,349.9 163.7,347.6 167.6,345.2 171.4,342.7 175.3,340.2 179.2,337.6 183.1,335.0 187.0,332.3 190.9,329.5 194.8,326.7 198.7,323.9 202.6,321.1 206.5,318.2 210.4,315.0 214.3,311.7 218.2,308.1 222.1,304.5 226.0,300.7 229.9,296.7 233.8,292.6 237.7,288.3 241.6,284.2" fill="none" stroke="#c9c9c9" stroke-width="0.8" stroke-linejoin="round" stroke-linecap="round" />
<path d="M54.6,421.9 54.9,420.9 55.4,419.2 55.8,417.6 56.5,415.3 57.1,413.2 57.7,411.2 58.5,408.9 59.3,406.9 60.1,405.3 60.8,403.8 62.4,401.1 63.9,398.7 65.5,396.7 67.1,395.0 68.6,393.6 70.2,392.4 72.5,390.7 74.9,389.2 77.2,387.7 79.5,386.2 82.6,384.2 84.2,383.2 85.8,382.4 87.3,381.5 89.7,380.3 93.6,378.4 97.4,376.5 101.3,374.6 105.2,372.5 109.1,370.5 113.0,368.4 116.9,366.3 120.8,364.2 124.7,362.0 128.6,359.8 132.5,357.6 136.4,355.3 140.3,352.9 144.2,350.5 148.1,348.0 152.0,345.5 155.9,343.0 159.8,340.3 163.7,337.6 167.6,334.8 171.4,331.9 175.3,328.9 179.2,325.9 183.1,322.7 187.0,319.5 190.9,316.2 194.8,312.8 198.7,309.4 202.6,305.9 206.5,302.3 210.4,298.5 214.3,294.5 218.2,290.4 222.1,286.0 226.0,281.6 229.9,276.8 233.8,271.9 237.7,266.9 240.5,263.3" fill="none" stroke="#1a1a1a" stroke-width="1.2" stroke-linejoin="round" stroke-linecap="round" />
<path d="M54.6,420.2 54.9,419.0 55.4,417.3 55.8,415.5 56.5,413.1 57.1,410.8 57.7,408.7 58.5,406.3 59.3,404.3 60.1,402.6 60.8,401.1 62.4,398.5 63.9,396.0 65.5,393.8 67.1,391.9 68.6,390.3 70.2,388.9 72.5,387.1 74.9,385.4 77.2,383.8 79.5,382.2 82.6,380.0 84.2,379.0 85.8,378.0 87.3,377.1 89.7,375.7 93.6,373.4 97.4,371.2 101.3,368.9 105.2,366.6 109.1,364.4 113.0,362.1 116.9,359.8 120.8,357.4 124.7,354.9 128.6,352.4 132.5,349.8 136.4,347.2 140.3,344.5 144.2,341.8 148.1,338.9 152.0,335.9 155.9,332.8 159.8,329.6 163.7,326.3 167.6,322.9 171.4,319.4 175.3,315.8 179.2,312.0 183.1,308.1 187.0,304.0 190.9,299.8 194.8,295.5 198.7,290.9 202.6,286.1 206.5,281.2 210.4,276.3 214.3,271.5 218.2,266.7 220.9,263.3" fill="none" stroke="#c9c9c9" stroke-width="0.8" stroke-linejoin="round" stroke-linecap="round" />
<path d="M54.6,418.9 54.9,417.7 55.4,415.8 55.8,413.9 56.5,411.4 57.1,408.9 57.7,406.6 58.5,404.1 59.3,402.0 60.1,400.2 60.8,398.7 62.4,395.8 63.9,393.2 65.5,390.8 67.1,388.8 68.6,386.9 70.2,385.4 72.5,383.4 74.9,381.6 77.2,379.9 79.5,378.2 82.6,375.9 84.2,374.7 85.8,373.7 87.3,372.6 89.7,371.1 93.6,368.7 97.4,366.2 101.3,363.7 105.2,361.1 109.1,358.6 113.0,356.0 116.9,353.3 120.8,350.4 124.7,347.6 128.6,344.6 132.5,341.5 136.4,338.4 140.3,335.2 144.2,331.9 148.1,328.5 152.0,324.9 155.9,321.2 159.8,317.3 163.7,313.3 167.6,309.2 171.4,304.9 175.3,300.5 179.2,295.9 183.1,291.0 187.0,286.0 190.9,280.7 194.8,275.5 198.7,270.1 202.6,264.7 203.6,263.3" fill="none" stroke="#c9c9c9" stroke-width="0.8" stroke-linejoin="round" stroke-linecap="round" />
<path d="M54.6,418.0 54.9,416.8 55.4,414.9 55.8,412.9 56.5,410.3 57.1,407.8 57.7,405.4 58.5,402.8 59.3,400.6 60.1,398.7 60.8,397.1 62.4,394.1 63.9,391.4 65.5,389.1 67.1,387.0 68.6,385.2 70.2,383.7 72.5,381.6 74.9,379.7 77.2,377.8 79.5,375.9 82.6,373.4 84.2,372.2 85.8,371.1 87.3,370.0 89.7,368.4 93.6,365.9 97.4,363.3 101.3,360.6 105.2,357.8 109.1,354.9 113.0,351.9 116.9,348.9 120.8,346.0 124.7,343.0 128.6,340.0 132.5,336.7 136.4,333.3 140.3,329.7 144.2,325.9 148.1,322.0 152.0,317.9 155.9,313.6 159.8,309.2 163.7,304.6 167.6,299.7 171.4,294.6 175.3,289.4 179.2,284.2 183.1,278.9 187.0,273.5 190.9,268.0 194.2,263.3" fill="none" stroke="#c9c9c9" stroke-width="0.8" stroke-linejoin="round" stroke-linecap="round" />
<path d="M54.6,417.6 54.9,416.3 55.4,414.3 55.8,412.3 56.5,409.6 57.1,407.0 57.7,404.6 58.5,401.9 59.3,399.7 60.1,397.8 60.8,396.2 62.4,393.2 63.9,390.4 65.5,387.8 67.1,385.7 68.6,383.9 70.2,382.4 72.5,380.2 74.9,378.1 77.2,376.1 79.5,374.1 82.6,371.7 84.2,370.5 85.8,369.3 87.3,368.2 89.7,366.6 93.6,363.9 97.4,361.3 101.3,358.5 105.2,355.5 109.1,352.5 113.0,349.4 116.9,346.3 120.8,343.3 124.7,340.2 128.6,337.1 132.5,333.7 136.4,330.0 140.3,326.1 144.2,322.0 148.1,317.6 152.0,313.1 155.9,308.3 159.8,303.3 163.7,298.1 167.6,292.6 171.4,286.8 175.3,280.9 179.2,275.0 183.1,269.1 186.9,263.3" fill="none" stroke="#c9c9c9" stroke-width="0.8" stroke-linejoin="round" stroke-linecap="round" />
<text x="187.7" y="262.9" font-size="4.9" fill="#444" textLength="7.3" lengthAdjust="spacingAndGlyphs">P97</text>
<text x="196.0" y="263.7" font-size="4.9" fill="#444" textLength="7.3" lengthAdjust="spacingAndGlyphs">P95</text>
<text x="206.0" y="266.5" font-size="4.9" fill="#444" textLength="7.3" lengthAdjust="spacingAndGlyphs">P90</text>
<text x="222.8" y="266.5" font-size="4.9" fill="#444" textLength="7.3" lengthAdjust="spacingAndGlyphs">P75</text>
<text x="241.0" y="265.2" font-size="4.9" fill="#444" textLength="7.3" lengthAdjust="spacingAndGlyphs">P50</text>
<text x="242.5" y="284.2" font-size="4.9" fill="#444" textLength="7.3" lengthAdjust="spacingAndGlyphs">P25</text>
<text x="242.5" y="299.2" font-size="4.9" fill="#444" textLength="7.3" lengthAdjust="spacingAndGlyphs">P10</text>
<text x="242.5" y="306.5" font-size="4.9" fill="#444" textLength="4.9" lengthAdjust="spacingAndGlyphs">P5</text>
<text x="242.5" y="310.9" font-size="4.9" fill="#444" textLength="4.9" lengthAdjust="spacingAndGlyphs">P3</text>
<path d="M54.6,419.0 62.0,405.0 79.7,392.0 89.7,384.0 179.2,308.1" fill="none" stroke="#36538f" stroke-width="1.15" stroke-linejoin="round" stroke-linecap="round" />
<rect x="53.8" y="418.1" width="1.7" height="1.7" fill="#36538f"/>
<rect x="61.1" y="404.1" width="1.7" height="1.7" fill="#36538f"/>
<rect x="78.9" y="391.1" width="1.7" height="1.7" fill="#36538f"/>
<rect x="88.9" y="383.1" width="1.7" height="1.7" fill="#36538f"/>
<rect x="178.3" y="307.2" width="1.7" height="1.7" fill="#36538f"/>
<path d="M55.5,421.0 70.0,400.0 87.4,391.5 93.5,388.5 121.2,388.2" fill="none" stroke="#36538f" stroke-width="1.15" stroke-linejoin="round" stroke-linecap="round" />
<rect x="54.6" y="420.1" width="1.7" height="1.7" fill="#36538f"/>
<rect x="69.2" y="399.1" width="1.7" height="1.7" fill="#36538f"/>
<rect x="86.6" y="390.6" width="1.7" height="1.7" fill="#36538f"/>
<rect x="92.7" y="387.6" width="1.7" height="1.7" fill="#36538f"/>
<rect x="120.4" y="387.3" width="1.7" height="1.7" fill="#36538f"/>
<path d="M56.0,416.0 72.0,398.0 90.0,388.0 100.0,383.0 120.0,372.0 135.0,365.0 165.0,340.0 184.6,320.0 199.6,310.3 212.3,299.2 216.9,291.2" fill="none" stroke="#36538f" stroke-width="1.15" stroke-linejoin="round" stroke-linecap="round" />
<rect x="55.1" y="415.1" width="1.7" height="1.7" fill="#36538f"/>
<rect x="71.2" y="397.1" width="1.7" height="1.7" fill="#36538f"/>
<rect x="89.2" y="387.1" width="1.7" height="1.7" fill="#36538f"/>
<rect x="99.2" y="382.1" width="1.7" height="1.7" fill="#36538f"/>
<rect x="119.2" y="371.1" width="1.7" height="1.7" fill="#36538f"/>
<rect x="134.2" y="364.1" width="1.7" height="1.7" fill="#36538f"/>
<rect x="164.2" y="339.1" width="1.7" height="1.7" fill="#36538f"/>
<rect x="183.8" y="319.1" width="1.7" height="1.7" fill="#36538f"/>
<rect x="198.8" y="309.4" width="1.7" height="1.7" fill="#36538f"/>
<rect x="211.5" y="298.3" width="1.7" height="1.7" fill="#36538f"/>
<rect x="216.1" y="290.3" width="1.7" height="1.7" fill="#36538f"/>
<path d="M182.3,382.8 221.5,382.8" fill="none" stroke="#36538f" stroke-width="1.15" stroke-linejoin="round" stroke-linecap="round" />
<rect x="181.5" y="381.9" width="1.7" height="1.7" fill="#36538f"/>
<rect x="220.7" y="381.9" width="1.7" height="1.7" fill="#36538f"/>
<path d="M54.6,421.0 76.6,405.4 94.2,398.5 112.8,396.5 117.3,391.5 125.0,390.8 138.5,387.4 178.9,371.2" fill="none" stroke="#36538f" stroke-width="1.15" stroke-linejoin="round" stroke-linecap="round" />
<rect x="53.8" y="420.1" width="1.7" height="1.7" fill="#36538f"/>
<rect x="75.8" y="404.5" width="1.7" height="1.7" fill="#36538f"/>
<rect x="93.4" y="397.6" width="1.7" height="1.7" fill="#36538f"/>
<rect x="112.0" y="395.6" width="1.7" height="1.7" fill="#36538f"/>
<rect x="116.5" y="390.6" width="1.7" height="1.7" fill="#36538f"/>
<rect x="124.2" y="389.9" width="1.7" height="1.7" fill="#36538f"/>
<rect x="137.7" y="386.5" width="1.7" height="1.7" fill="#36538f"/>
<rect x="178.1" y="370.3" width="1.7" height="1.7" fill="#36538f"/>
<path d="M58.2,406.9 84.3,397.7 110.0,392.0 125.0,390.8 171.2,360.9" fill="none" stroke="#36538f" stroke-width="1.15" stroke-linejoin="round" stroke-linecap="round" />
<rect x="57.4" y="406.0" width="1.7" height="1.7" fill="#36538f"/>
<rect x="83.5" y="396.8" width="1.7" height="1.7" fill="#36538f"/>
<rect x="109.2" y="391.1" width="1.7" height="1.7" fill="#36538f"/>
<rect x="124.2" y="389.9" width="1.7" height="1.7" fill="#36538f"/>
<rect x="170.3" y="360.0" width="1.7" height="1.7" fill="#36538f"/>
<path d="M55.0,415.0 70.5,392.0 89.7,380.8 96.6,362.3" fill="none" stroke="#36538f" stroke-width="1.15" stroke-linejoin="round" stroke-linecap="round" />
<rect x="54.1" y="414.1" width="1.7" height="1.7" fill="#36538f"/>
<rect x="69.7" y="391.1" width="1.7" height="1.7" fill="#36538f"/>
<rect x="88.9" y="379.9" width="1.7" height="1.7" fill="#36538f"/>
<rect x="95.8" y="361.4" width="1.7" height="1.7" fill="#36538f"/>
<path d="M57.0,412.0 65.0,402.0 73.5,381.5" fill="none" stroke="#36538f" stroke-width="1.15" stroke-linejoin="round" stroke-linecap="round" />
<rect x="56.1" y="411.1" width="1.7" height="1.7" fill="#36538f"/>
<rect x="64.2" y="401.1" width="1.7" height="1.7" fill="#36538f"/>
<rect x="72.7" y="380.6" width="1.7" height="1.7" fill="#36538f"/>
<path d="M56.5,419.0 75.0,398.0 90.5,390.0 95.1,395.4" fill="none" stroke="#36538f" stroke-width="1.15" stroke-linejoin="round" stroke-linecap="round" />
<rect x="55.6" y="418.1" width="1.7" height="1.7" fill="#36538f"/>
<rect x="74.2" y="397.1" width="1.7" height="1.7" fill="#36538f"/>
<rect x="89.7" y="389.1" width="1.7" height="1.7" fill="#36538f"/>
<rect x="94.2" y="394.5" width="1.7" height="1.7" fill="#36538f"/>
<path d="M55.5,417.0 68.0,398.0 82.0,389.0 94.2,380.0 120.0,362.0 148.5,345.8 169.2,335.8" fill="none" stroke="#36538f" stroke-width="1.15" stroke-linejoin="round" stroke-linecap="round" />
<rect x="54.6" y="416.1" width="1.7" height="1.7" fill="#36538f"/>
<rect x="67.2" y="397.1" width="1.7" height="1.7" fill="#36538f"/>
<rect x="81.2" y="388.1" width="1.7" height="1.7" fill="#36538f"/>
<rect x="93.4" y="379.1" width="1.7" height="1.7" fill="#36538f"/>
<rect x="119.2" y="361.1" width="1.7" height="1.7" fill="#36538f"/>
<rect x="147.7" y="344.9" width="1.7" height="1.7" fill="#36538f"/>
<rect x="168.3" y="334.9" width="1.7" height="1.7" fill="#36538f"/>
<path d="M58.2,406.9 72.0,395.0 85.0,387.0 98.8,378.0 111.2,372.0 121.9,365.0 136.2,351.9 156.2,348.8 170.8,338.1" fill="none" stroke="#36538f" stroke-width="1.15" stroke-linejoin="round" stroke-linecap="round" />
<rect x="57.4" y="406.0" width="1.7" height="1.7" fill="#36538f"/>
<rect x="71.2" y="394.1" width="1.7" height="1.7" fill="#36538f"/>
<rect x="84.2" y="386.1" width="1.7" height="1.7" fill="#36538f"/>
<rect x="98.0" y="377.1" width="1.7" height="1.7" fill="#36538f"/>
<rect x="110.4" y="371.1" width="1.7" height="1.7" fill="#36538f"/>
<rect x="121.1" y="364.1" width="1.7" height="1.7" fill="#36538f"/>
<rect x="135.3" y="351.0" width="1.7" height="1.7" fill="#36538f"/>
<rect x="155.3" y="347.9" width="1.7" height="1.7" fill="#36538f"/>
<rect x="170.0" y="337.2" width="1.7" height="1.7" fill="#36538f"/>
<path d="M79.7,392.0 90.0,384.0 100.0,385.0 121.9,372.0 137.3,364.6" fill="none" stroke="#36538f" stroke-width="1.15" stroke-linejoin="round" stroke-linecap="round" />
<rect x="78.9" y="391.1" width="1.7" height="1.7" fill="#36538f"/>
<rect x="89.2" y="383.1" width="1.7" height="1.7" fill="#36538f"/>
<rect x="99.2" y="384.1" width="1.7" height="1.7" fill="#36538f"/>
<rect x="121.1" y="371.1" width="1.7" height="1.7" fill="#36538f"/>
<rect x="136.5" y="363.8" width="1.7" height="1.7" fill="#36538f"/>
<path d="M58.0,414.0 63.0,402.0 75.0,392.0 88.0,393.0 95.0,384.0 110.0,370.4 160.8,325.8 174.6,312.7 196.2,311.2 204.2,310.3" fill="none" stroke="#36538f" stroke-width="1.15" stroke-linejoin="round" stroke-linecap="round" />
<rect x="57.1" y="413.1" width="1.7" height="1.7" fill="#36538f"/>
<rect x="62.1" y="401.1" width="1.7" height="1.7" fill="#36538f"/>
<rect x="74.2" y="391.1" width="1.7" height="1.7" fill="#36538f"/>
<rect x="87.2" y="392.1" width="1.7" height="1.7" fill="#36538f"/>
<rect x="94.2" y="383.1" width="1.7" height="1.7" fill="#36538f"/>
<rect x="109.2" y="369.5" width="1.7" height="1.7" fill="#36538f"/>
<rect x="160.0" y="324.9" width="1.7" height="1.7" fill="#36538f"/>
<rect x="173.8" y="311.8" width="1.7" height="1.7" fill="#36538f"/>
<rect x="195.3" y="310.3" width="1.7" height="1.7" fill="#36538f"/>
<rect x="203.3" y="309.4" width="1.7" height="1.7" fill="#36538f"/>
<text x="7.30" y="252.00" font-size="12.2" text-anchor="start" font-weight="bold" fill="#111" >B</text>
<text x="147.10" y="249.80" font-size="10.5" text-anchor="middle" font-weight="normal" fill="#1e1e1e" textLength="62.60" lengthAdjust="spacingAndGlyphs" >Weight - Boys</text>
<line x1="42.30" y1="415.40" x2="45.50" y2="415.40" stroke="#1c1c1c" stroke-width="1"/>
<text x="39.60" y="418.40" font-size="9.2" text-anchor="end" font-weight="normal" fill="#1e1e1e" textLength="4.55" lengthAdjust="spacingAndGlyphs" >5</text>
<line x1="42.30" y1="393.67" x2="45.50" y2="393.67" stroke="#1c1c1c" stroke-width="1"/>
<text x="39.60" y="396.67" font-size="9.2" text-anchor="end" font-weight="normal" fill="#1e1e1e" textLength="9.10" lengthAdjust="spacingAndGlyphs" >10</text>
<line x1="42.30" y1="371.94" x2="45.50" y2="371.94" stroke="#1c1c1c" stroke-width="1"/>
<text x="39.60" y="374.94" font-size="9.2" text-anchor="end" font-weight="normal" fill="#1e1e1e" textLength="9.10" lengthAdjust="spacingAndGlyphs" >15</text>
<line x1="42.30" y1="350.21" x2="45.50" y2="350.21" stroke="#1c1c1c" stroke-width="1"/>
<text x="39.60" y="353.21" font-size="9.2" text-anchor="end" font-weight="normal" fill="#1e1e1e" textLength="9.10" lengthAdjust="spacingAndGlyphs" >20</text>
<line x1="42.30" y1="328.49" x2="45.50" y2="328.49" stroke="#1c1c1c" stroke-width="1"/>
<text x="39.60" y="331.49" font-size="9.2" text-anchor="end" font-weight="normal" fill="#1e1e1e" textLength="9.10" lengthAdjust="spacingAndGlyphs" >25</text>
<line x1="42.30" y1="306.76" x2="45.50" y2="306.76" stroke="#1c1c1c" stroke-width="1"/>
<text x="39.60" y="309.76" font-size="9.2" text-anchor="end" font-weight="normal" fill="#1e1e1e" textLength="9.10" lengthAdjust="spacingAndGlyphs" >30</text>
<line x1="42.30" y1="285.03" x2="45.50" y2="285.03" stroke="#1c1c1c" stroke-width="1"/>
<text x="39.60" y="288.03" font-size="9.2" text-anchor="end" font-weight="normal" fill="#1e1e1e" textLength="9.10" lengthAdjust="spacingAndGlyphs" >35</text>
<line x1="42.30" y1="263.30" x2="45.50" y2="263.30" stroke="#1c1c1c" stroke-width="1"/>
<text x="39.60" y="266.30" font-size="9.2" text-anchor="end" font-weight="normal" fill="#1e1e1e" textLength="9.10" lengthAdjust="spacingAndGlyphs" >40</text>
<line x1="54.60" y1="434.60" x2="54.60" y2="437.80" stroke="#1c1c1c" stroke-width="1"/>
<text x="54.60" y="448.20" font-size="9.2" text-anchor="middle" font-weight="normal" fill="#1e1e1e" textLength="4.55" lengthAdjust="spacingAndGlyphs" >0</text>
<line x1="70.18" y1="434.60" x2="70.18" y2="437.80" stroke="#1c1c1c" stroke-width="1"/>
<text x="70.18" y="448.20" font-size="9.2" text-anchor="middle" font-weight="normal" fill="#1e1e1e" textLength="4.55" lengthAdjust="spacingAndGlyphs" >1</text>
<line x1="85.76" y1="434.60" x2="85.76" y2="437.80" stroke="#1c1c1c" stroke-width="1"/>
<text x="85.76" y="448.20" font-size="9.2" text-anchor="middle" font-weight="normal" fill="#1e1e1e" textLength="4.55" lengthAdjust="spacingAndGlyphs" >2</text>
<line x1="101.34" y1="434.60" x2="101.34" y2="437.80" stroke="#1c1c1c" stroke-width="1"/>
<text x="101.34" y="448.20" font-size="9.2" text-anchor="middle" font-weight="normal" fill="#1e1e1e" textLength="4.55" lengthAdjust="spacingAndGlyphs" >3</text>
<line x1="116.92" y1="434.60" x2="116.92" y2="437.80" stroke="#1c1c1c" stroke-width="1"/>
<text x="116.92" y="448.20" font-size="9.2" text-anchor="middle" font-weight="normal" fill="#1e1e1e" textLength="4.55" lengthAdjust="spacingAndGlyphs" >4</text>
<line x1="132.50" y1="434.60" x2="132.50" y2="437.80" stroke="#1c1c1c" stroke-width="1"/>
<text x="132.50" y="448.20" font-size="9.2" text-anchor="middle" font-weight="normal" fill="#1e1e1e" textLength="4.55" lengthAdjust="spacingAndGlyphs" >5</text>
<line x1="148.08" y1="434.60" x2="148.08" y2="437.80" stroke="#1c1c1c" stroke-width="1"/>
<text x="148.08" y="448.20" font-size="9.2" text-anchor="middle" font-weight="normal" fill="#1e1e1e" textLength="4.55" lengthAdjust="spacingAndGlyphs" >6</text>
<line x1="163.66" y1="434.60" x2="163.66" y2="437.80" stroke="#1c1c1c" stroke-width="1"/>
<text x="163.66" y="448.20" font-size="9.2" text-anchor="middle" font-weight="normal" fill="#1e1e1e" textLength="4.55" lengthAdjust="spacingAndGlyphs" >7</text>
<line x1="179.24" y1="434.60" x2="179.24" y2="437.80" stroke="#1c1c1c" stroke-width="1"/>
<text x="179.24" y="448.20" font-size="9.2" text-anchor="middle" font-weight="normal" fill="#1e1e1e" textLength="4.55" lengthAdjust="spacingAndGlyphs" >8</text>
<line x1="194.82" y1="434.60" x2="194.82" y2="437.80" stroke="#1c1c1c" stroke-width="1"/>
<text x="194.82" y="448.20" font-size="9.2" text-anchor="middle" font-weight="normal" fill="#1e1e1e" textLength="4.55" lengthAdjust="spacingAndGlyphs" >9</text>
<line x1="210.40" y1="434.60" x2="210.40" y2="437.80" stroke="#1c1c1c" stroke-width="1"/>
<text x="210.40" y="448.20" font-size="9.2" text-anchor="middle" font-weight="normal" fill="#1e1e1e" textLength="9.10" lengthAdjust="spacingAndGlyphs" >10</text>
<line x1="225.98" y1="434.60" x2="225.98" y2="437.80" stroke="#1c1c1c" stroke-width="1"/>
<text x="225.98" y="448.20" font-size="9.2" text-anchor="middle" font-weight="normal" fill="#1e1e1e" textLength="9.10" lengthAdjust="spacingAndGlyphs" >11</text>
<line x1="241.56" y1="434.60" x2="241.56" y2="437.80" stroke="#1c1c1c" stroke-width="1"/>
<text x="241.56" y="448.20" font-size="9.2" text-anchor="middle" font-weight="normal" fill="#1e1e1e" textLength="9.10" lengthAdjust="spacingAndGlyphs" >12</text>
<text x="147.20" y="461.60" font-size="11" text-anchor="middle" font-weight="normal" fill="#1e1e1e" textLength="38.60" lengthAdjust="spacingAndGlyphs" >Age (years)</text>
<text x="0" y="0" font-size="11" text-anchor="middle" fill="#1e1e1e" textLength="41.30" lengthAdjust="spacingAndGlyphs" transform="translate(24.70,345.00) rotate(-90)">Weight (kg)</text>
<rect x="45.50" y="255.60" width="205.75" height="179.00" fill="none" stroke="#1c1c1c" stroke-width="1.3" stroke-linejoin="round"/>
<path d="M316.5,426.7 316.8,425.9 317.3,424.7 317.7,423.5 318.4,421.9 319.0,420.3 319.6,418.8 320.4,417.1 321.2,415.7 322.0,414.4 322.7,413.2 324.3,411.0 325.8,409.1 327.4,407.5 329.0,406.0 330.5,404.7 332.1,403.7 334.4,402.1 336.7,400.7 339.1,399.3 341.4,398.0 344.5,396.4 346.1,395.7 347.6,394.9 349.2,394.2 351.5,393.1 355.4,391.3 359.3,389.5 363.2,388.0 367.1,386.8 371.0,385.8 374.9,384.8 378.8,383.6 382.7,382.2 386.6,380.5 390.5,378.8 394.4,377.1 398.3,375.4 402.2,373.7 406.1,371.9 409.9,370.1 413.8,368.4 417.7,366.7 421.6,365.0 425.5,363.2 429.4,361.3 433.3,359.4 437.2,357.4 441.1,355.4 445.0,353.3 448.9,351.2 452.8,349.0 456.7,346.6 460.6,344.2 464.5,341.6 468.4,339.0 472.2,336.2 476.1,333.4 480.0,330.4 483.9,327.3 487.8,324.0 491.7,320.4 495.6,316.6 499.5,312.7 503.4,308.8" fill="none" stroke="#c9c9c9" stroke-width="0.8" stroke-linejoin="round" stroke-linecap="round" />
<path d="M316.5,426.3 316.8,425.5 317.3,424.2 317.7,422.9 318.4,421.2 319.0,419.6 319.6,418.0 320.4,416.3 321.2,414.8 322.0,413.5 322.7,412.3 324.3,410.2 325.8,408.2 327.4,406.6 329.0,405.1 330.5,403.9 332.1,402.8 334.4,401.3 336.7,399.8 339.1,398.5 341.4,397.1 344.5,395.3 346.1,394.4 347.6,393.6 349.2,392.9 351.5,391.8 355.4,390.0 359.3,388.2 363.2,386.7 367.1,385.4 371.0,384.3 374.9,383.2 378.8,381.9 382.7,380.4 386.6,378.8 390.5,377.1 394.4,375.4 398.3,373.7 402.2,372.0 406.1,370.2 409.9,368.4 413.8,366.5 417.7,364.6 421.6,362.6 425.5,360.6 429.4,358.6 433.3,356.5 437.2,354.4 441.1,352.3 445.0,350.1 448.9,347.9 452.8,345.6 456.7,343.2 460.6,340.6 464.5,337.9 468.4,335.2 472.2,332.3 476.1,329.3 480.0,326.3 483.9,323.0 487.8,319.7 491.7,316.0 495.6,312.2 499.5,308.3 503.4,304.4" fill="none" stroke="#c9c9c9" stroke-width="0.8" stroke-linejoin="round" stroke-linecap="round" />
<path d="M316.5,425.4 316.8,424.6 317.3,423.4 317.7,422.1 318.4,420.4 319.0,418.7 319.6,417.2 320.4,415.4 321.2,413.8 322.0,412.4 322.7,411.2 324.3,408.9 325.8,406.9 327.4,405.3 329.0,403.8 330.5,402.6 332.1,401.5 334.4,399.8 336.7,398.3 339.1,396.7 341.4,395.3 344.5,393.5 346.1,392.7 347.6,391.9 349.2,391.1 351.5,389.9 355.4,388.0 359.3,386.2 363.2,384.5 367.1,383.1 371.0,381.9 374.9,380.7 378.8,379.3 382.7,377.7 386.6,376.0 390.5,374.2 394.4,372.3 398.3,370.4 402.2,368.5 406.1,366.5 409.9,364.5 413.8,362.5 417.7,360.4 421.6,358.4 425.5,356.2 429.4,354.0 433.3,351.8 437.2,349.4 441.1,347.1 445.0,344.7 448.9,342.2 452.8,339.7 456.7,337.1 460.6,334.4 464.5,331.6 468.4,328.7 472.2,325.8 476.1,322.7 480.0,319.5 483.9,316.2 487.8,312.7 491.7,308.9 495.6,304.8 499.5,300.7 503.4,296.6" fill="none" stroke="#c9c9c9" stroke-width="0.8" stroke-linejoin="round" stroke-linecap="round" />
<path d="M316.5,424.1 316.8,423.3 317.3,422.0 317.7,420.6 318.4,418.9 319.0,417.2 319.6,415.5 320.4,413.7 321.2,412.0 322.0,410.5 322.7,409.2 324.3,406.7 325.8,404.5 327.4,402.7 329.0,401.2 330.5,400.0 332.1,398.9 334.4,397.2 336.7,395.6 339.1,394.1 341.4,392.7 344.5,391.0 346.1,390.1 347.6,389.3 349.2,388.4 351.5,387.2 355.4,385.0 359.3,383.0 363.2,381.0 367.1,379.3 371.0,377.8 374.9,376.2 378.8,374.5 382.7,372.6 386.6,370.5 390.5,368.3 394.4,366.2 398.3,364.2 402.2,362.1 406.1,360.1 409.9,358.0 413.8,355.8 417.7,353.5 421.6,351.2 425.5,348.8 429.4,346.3 433.3,343.8 437.2,341.1 441.1,338.4 445.0,335.6 448.9,332.7 452.8,329.7 456.7,326.6 460.6,323.5 464.5,320.3 468.4,317.0 472.2,313.6 476.1,310.1 480.0,306.5 483.9,302.7 487.8,298.8 491.7,294.6 495.6,290.2 499.5,285.8 503.4,281.4" fill="none" stroke="#c9c9c9" stroke-width="0.8" stroke-linejoin="round" stroke-linecap="round" />
<path d="M316.5,422.4 316.8,421.5 317.3,420.1 317.7,418.7 318.4,416.9 319.0,415.1 319.6,413.4 320.4,411.5 321.2,409.9 322.0,408.5 322.7,407.3 324.3,405.0 325.8,402.7 327.4,400.7 329.0,398.8 330.5,397.2 332.1,395.8 334.4,393.9 336.7,392.0 339.1,390.3 341.4,388.7 344.5,386.7 346.1,385.8 347.6,384.9 349.2,384.1 351.5,382.8 355.4,380.8 359.3,378.7 363.2,376.7 367.1,374.5 371.0,372.3 374.9,370.2 378.8,368.0 382.7,365.8 386.6,363.7 390.5,361.5 394.4,359.3 398.3,357.0 402.2,354.6 406.1,352.2 409.9,349.7 413.8,347.1 417.7,344.4 421.6,341.7 425.5,338.8 429.4,335.8 433.3,332.8 437.2,329.5 441.1,326.2 445.0,322.7 448.9,319.1 452.8,315.3 456.7,311.4 460.6,307.4 464.5,303.2 468.4,298.8 472.2,294.4 476.1,289.9 480.0,285.3 483.9,280.6 487.8,275.7 491.7,270.7 495.6,265.4 497.3,263.1" fill="none" stroke="#1a1a1a" stroke-width="1.2" stroke-linejoin="round" stroke-linecap="round" />
<path d="M316.5,421.1 316.8,420.1 317.3,418.6 317.7,417.2 318.4,415.2 319.0,413.2 319.6,411.4 320.4,409.3 321.2,407.4 322.0,405.8 322.7,404.2 324.3,401.5 325.8,399.1 327.4,397.1 329.0,395.4 330.5,394.0 332.1,392.8 334.4,390.9 336.7,389.0 339.1,387.3 341.4,385.6 344.5,383.5 346.1,382.5 347.6,381.5 349.2,380.5 351.5,379.0 355.4,376.5 359.3,374.1 363.2,371.5 367.1,368.6 371.0,365.6 374.9,362.6 378.8,359.7 382.7,357.0 386.6,354.4 390.5,351.8 394.4,349.3 398.3,346.7 402.2,344.2 406.1,341.6 409.9,338.8 413.8,335.8 417.7,332.6 421.6,329.2 425.5,325.8 429.4,322.2 433.3,318.6 437.2,314.8 441.1,311.0 445.0,307.0 448.9,303.0 452.8,298.8 456.7,294.4 460.6,289.8 464.5,285.1 468.4,280.2 472.2,275.3 476.1,270.4 480.0,265.4 481.8,263.1" fill="none" stroke="#c9c9c9" stroke-width="0.8" stroke-linejoin="round" stroke-linecap="round" />
<path d="M316.5,419.8 316.8,418.7 317.3,417.2 317.7,415.6 318.4,413.4 319.0,411.4 319.6,409.4 320.4,407.1 321.2,405.2 322.0,403.4 322.7,401.8 324.3,398.9 325.8,396.3 327.4,394.2 329.0,392.3 330.5,390.7 332.1,389.3 334.4,387.2 336.7,385.3 339.1,383.4 341.4,381.6 344.5,379.3 346.1,378.2 347.6,377.1 349.2,376.0 351.5,374.4 355.4,371.8 359.3,369.1 363.2,366.2 367.1,363.0 371.0,359.6 374.9,356.1 378.8,352.7 382.7,349.6 386.6,346.6 390.5,343.6 394.4,340.6 398.3,337.4 402.2,334.3 406.1,331.0 409.9,327.5 413.8,323.7 417.7,319.6 421.6,315.4 425.5,311.0 429.4,306.4 433.3,301.6 437.2,296.7 441.1,291.8 445.0,286.9 448.9,282.0 452.8,276.9 456.7,271.8 460.6,266.5 463.0,263.1" fill="none" stroke="#c9c9c9" stroke-width="0.8" stroke-linejoin="round" stroke-linecap="round" />
<path d="M316.5,418.9 316.8,417.8 317.3,416.2 317.7,414.6 318.4,412.4 319.0,410.2 319.6,408.2 320.4,405.8 321.2,403.8 322.0,401.9 322.7,400.2 324.3,397.1 325.8,394.6 327.4,392.4 329.0,390.6 330.5,389.0 332.1,387.6 334.4,385.4 336.7,383.3 339.1,381.2 341.4,379.3 344.5,376.9 346.1,375.7 347.6,374.5 349.2,373.3 351.5,371.6 355.4,368.8 359.3,365.9 363.2,362.7 367.1,359.1 371.0,355.2 374.9,351.2 378.8,347.5 382.7,344.2 386.6,341.2 390.5,338.2 394.4,334.9 398.3,331.4 402.2,327.7 406.1,323.8 409.9,319.7 413.8,315.2 417.7,310.4 421.6,305.3 425.5,300.1 429.4,294.6 433.3,288.7 437.2,282.8 441.1,277.0 445.0,271.3 448.9,265.6 450.6,263.1" fill="none" stroke="#c9c9c9" stroke-width="0.8" stroke-linejoin="round" stroke-linecap="round" />
<path d="M316.5,418.4 316.8,417.4 317.3,415.7 317.7,414.0 318.4,411.7 319.0,409.5 319.6,407.3 320.4,405.0 321.2,402.9 322.0,401.0 322.7,399.3 324.3,396.3 325.8,393.5 327.4,391.2 329.0,389.2 330.5,387.7 332.1,386.2 334.4,384.0 336.7,381.7 339.1,379.5 341.4,377.5 344.5,375.1 346.1,374.0 347.6,372.8 349.2,371.6 351.5,369.8 355.4,366.9 359.3,363.9 363.2,360.6 367.1,356.7 371.0,352.4 374.9,348.1 378.8,344.0 382.7,340.4 386.6,337.1 390.5,333.7 394.4,330.1 398.3,326.3 402.2,322.3 406.1,318.1 409.9,313.6 413.8,308.6 417.7,303.2 421.6,297.6 425.5,291.8 429.4,285.7 433.3,279.3 437.2,272.8 441.1,266.6 443.3,263.1" fill="none" stroke="#c9c9c9" stroke-width="0.8" stroke-linejoin="round" stroke-linecap="round" />
<text x="443.9" y="262.9" font-size="4.9" fill="#444" textLength="7.3" lengthAdjust="spacingAndGlyphs">P97</text>
<text x="452.0" y="263.7" font-size="4.9" fill="#444" textLength="7.3" lengthAdjust="spacingAndGlyphs">P95</text>
<text x="463.0" y="265.2" font-size="4.9" fill="#444" textLength="7.3" lengthAdjust="spacingAndGlyphs">P90</text>
<text x="479.0" y="265.9" font-size="4.9" fill="#444" textLength="7.3" lengthAdjust="spacingAndGlyphs">P75</text>
<text x="499.0" y="264.7" font-size="4.9" fill="#444" textLength="7.3" lengthAdjust="spacingAndGlyphs">P50</text>
<text x="502.5" y="280.7" font-size="4.9" fill="#444" textLength="7.3" lengthAdjust="spacingAndGlyphs">P25</text>
<text x="502.5" y="296.7" font-size="4.9" fill="#444" textLength="7.3" lengthAdjust="spacingAndGlyphs">P10</text>
<text x="502.5" y="304.6" font-size="4.9" fill="#444" textLength="4.9" lengthAdjust="spacingAndGlyphs">P5</text>
<text x="502.5" y="310.1" font-size="4.9" fill="#444" textLength="4.9" lengthAdjust="spacingAndGlyphs">P3</text>
<path d="M317.0,419.5 365.6,354.5 383.7,343.1 399.9,352.5" fill="none" stroke="#c0173d" stroke-width="1.25" stroke-linejoin="round" stroke-linecap="round" />
<rect x="316.1" y="418.6" width="1.7" height="1.7" fill="#c0173d"/>
<rect x="364.8" y="353.6" width="1.7" height="1.7" fill="#c0173d"/>
<rect x="382.8" y="342.2" width="1.7" height="1.7" fill="#c0173d"/>
<rect x="399.0" y="351.6" width="1.7" height="1.7" fill="#c0173d"/>
<path d="M317.0,419.5 351.8,390.2 356.2,390.2 359.5,388.8 361.8,391.8 364.9,389.9 374.3,386.1 382.4,384.8" fill="none" stroke="#c0173d" stroke-width="1.25" stroke-linejoin="round" stroke-linecap="round" />
<rect x="316.1" y="418.6" width="1.7" height="1.7" fill="#c0173d"/>
<rect x="350.9" y="389.3" width="1.7" height="1.7" fill="#c0173d"/>
<rect x="355.3" y="389.3" width="1.7" height="1.7" fill="#c0173d"/>
<rect x="358.6" y="387.9" width="1.7" height="1.7" fill="#c0173d"/>
<rect x="360.9" y="390.9" width="1.7" height="1.7" fill="#c0173d"/>
<rect x="364.0" y="389.0" width="1.7" height="1.7" fill="#c0173d"/>
<rect x="373.4" y="385.2" width="1.7" height="1.7" fill="#c0173d"/>
<rect x="381.5" y="383.9" width="1.7" height="1.7" fill="#c0173d"/>
<path d="M369.6,370.7 380.1,369.3" fill="none" stroke="#c0173d" stroke-width="1.25" stroke-linejoin="round" stroke-linecap="round" />
<rect x="368.8" y="369.8" width="1.7" height="1.7" fill="#c0173d"/>
<rect x="379.2" y="368.4" width="1.7" height="1.7" fill="#c0173d"/>
<rect x="400.6" y="379.2" width="1.7" height="1.7" fill="#c0173d"/>
<text x="269.15" y="252.10" font-size="12.2" text-anchor="start" font-weight="bold" fill="#111" >E</text>
<text x="408.50" y="250.20" font-size="10.5" text-anchor="middle" font-weight="normal" fill="#1e1e1e" textLength="61.00" lengthAdjust="spacingAndGlyphs" >Weight - Girls</text>
<line x1="304.05" y1="415.40" x2="307.25" y2="415.40" stroke="#1c1c1c" stroke-width="1"/>
<text x="301.35" y="418.40" font-size="9.2" text-anchor="end" font-weight="normal" fill="#1e1e1e" textLength="4.55" lengthAdjust="spacingAndGlyphs" >5</text>
<line x1="304.05" y1="393.64" x2="307.25" y2="393.64" stroke="#1c1c1c" stroke-width="1"/>
<text x="301.35" y="396.64" font-size="9.2" text-anchor="end" font-weight="normal" fill="#1e1e1e" textLength="9.10" lengthAdjust="spacingAndGlyphs" >10</text>
<line x1="304.05" y1="371.89" x2="307.25" y2="371.89" stroke="#1c1c1c" stroke-width="1"/>
<text x="301.35" y="374.89" font-size="9.2" text-anchor="end" font-weight="normal" fill="#1e1e1e" textLength="9.10" lengthAdjust="spacingAndGlyphs" >15</text>
<line x1="304.05" y1="350.13" x2="307.25" y2="350.13" stroke="#1c1c1c" stroke-width="1"/>
<text x="301.35" y="353.13" font-size="9.2" text-anchor="end" font-weight="normal" fill="#1e1e1e" textLength="9.10" lengthAdjust="spacingAndGlyphs" >20</text>
<line x1="304.05" y1="328.37" x2="307.25" y2="328.37" stroke="#1c1c1c" stroke-width="1"/>
<text x="301.35" y="331.37" font-size="9.2" text-anchor="end" font-weight="normal" fill="#1e1e1e" textLength="9.10" lengthAdjust="spacingAndGlyphs" >25</text>
<line x1="304.05" y1="306.61" x2="307.25" y2="306.61" stroke="#1c1c1c" stroke-width="1"/>
<text x="301.35" y="309.61" font-size="9.2" text-anchor="end" font-weight="normal" fill="#1e1e1e" textLength="9.10" lengthAdjust="spacingAndGlyphs" >30</text>
<line x1="304.05" y1="284.86" x2="307.25" y2="284.86" stroke="#1c1c1c" stroke-width="1"/>
<text x="301.35" y="287.86" font-size="9.2" text-anchor="end" font-weight="normal" fill="#1e1e1e" textLength="9.10" lengthAdjust="spacingAndGlyphs" >35</text>
<line x1="304.05" y1="263.10" x2="307.25" y2="263.10" stroke="#1c1c1c" stroke-width="1"/>
<text x="301.35" y="266.10" font-size="9.2" text-anchor="end" font-weight="normal" fill="#1e1e1e" textLength="9.10" lengthAdjust="spacingAndGlyphs" >40</text>
<line x1="316.50" y1="434.60" x2="316.50" y2="437.80" stroke="#1c1c1c" stroke-width="1"/>
<text x="316.50" y="448.20" font-size="9.2" text-anchor="middle" font-weight="normal" fill="#1e1e1e" textLength="4.55" lengthAdjust="spacingAndGlyphs" >0</text>
<line x1="332.07" y1="434.60" x2="332.07" y2="437.80" stroke="#1c1c1c" stroke-width="1"/>
<text x="332.07" y="448.20" font-size="9.2" text-anchor="middle" font-weight="normal" fill="#1e1e1e" textLength="4.55" lengthAdjust="spacingAndGlyphs" >1</text>
<line x1="347.65" y1="434.60" x2="347.65" y2="437.80" stroke="#1c1c1c" stroke-width="1"/>
<text x="347.65" y="448.20" font-size="9.2" text-anchor="middle" font-weight="normal" fill="#1e1e1e" textLength="4.55" lengthAdjust="spacingAndGlyphs" >2</text>
<line x1="363.23" y1="434.60" x2="363.23" y2="437.80" stroke="#1c1c1c" stroke-width="1"/>
<text x="363.23" y="448.20" font-size="9.2" text-anchor="middle" font-weight="normal" fill="#1e1e1e" textLength="4.55" lengthAdjust="spacingAndGlyphs" >3</text>
<line x1="378.80" y1="434.60" x2="378.80" y2="437.80" stroke="#1c1c1c" stroke-width="1"/>
<text x="378.80" y="448.20" font-size="9.2" text-anchor="middle" font-weight="normal" fill="#1e1e1e" textLength="4.55" lengthAdjust="spacingAndGlyphs" >4</text>
<line x1="394.38" y1="434.60" x2="394.38" y2="437.80" stroke="#1c1c1c" stroke-width="1"/>
<text x="394.38" y="448.20" font-size="9.2" text-anchor="middle" font-weight="normal" fill="#1e1e1e" textLength="4.55" lengthAdjust="spacingAndGlyphs" >5</text>
<line x1="409.95" y1="434.60" x2="409.95" y2="437.80" stroke="#1c1c1c" stroke-width="1"/>
<text x="409.95" y="448.20" font-size="9.2" text-anchor="middle" font-weight="normal" fill="#1e1e1e" textLength="4.55" lengthAdjust="spacingAndGlyphs" >6</text>
<line x1="425.52" y1="434.60" x2="425.52" y2="437.80" stroke="#1c1c1c" stroke-width="1"/>
<text x="425.52" y="448.20" font-size="9.2" text-anchor="middle" font-weight="normal" fill="#1e1e1e" textLength="4.55" lengthAdjust="spacingAndGlyphs" >7</text>
<line x1="441.10" y1="434.60" x2="441.10" y2="437.80" stroke="#1c1c1c" stroke-width="1"/>
<text x="441.10" y="448.20" font-size="9.2" text-anchor="middle" font-weight="normal" fill="#1e1e1e" textLength="4.55" lengthAdjust="spacingAndGlyphs" >8</text>
<line x1="456.67" y1="434.60" x2="456.67" y2="437.80" stroke="#1c1c1c" stroke-width="1"/>
<text x="456.67" y="448.20" font-size="9.2" text-anchor="middle" font-weight="normal" fill="#1e1e1e" textLength="4.55" lengthAdjust="spacingAndGlyphs" >9</text>
<line x1="472.25" y1="434.60" x2="472.25" y2="437.80" stroke="#1c1c1c" stroke-width="1"/>
<text x="472.25" y="448.20" font-size="9.2" text-anchor="middle" font-weight="normal" fill="#1e1e1e" textLength="9.10" lengthAdjust="spacingAndGlyphs" >10</text>
<line x1="487.82" y1="434.60" x2="487.82" y2="437.80" stroke="#1c1c1c" stroke-width="1"/>
<text x="487.82" y="448.20" font-size="9.2" text-anchor="middle" font-weight="normal" fill="#1e1e1e" textLength="9.10" lengthAdjust="spacingAndGlyphs" >11</text>
<line x1="503.40" y1="434.60" x2="503.40" y2="437.80" stroke="#1c1c1c" stroke-width="1"/>
<text x="503.40" y="448.20" font-size="9.2" text-anchor="middle" font-weight="normal" fill="#1e1e1e" textLength="9.10" lengthAdjust="spacingAndGlyphs" >12</text>
<text x="409.00" y="461.60" font-size="11" text-anchor="middle" font-weight="normal" fill="#1e1e1e" textLength="38.70" lengthAdjust="spacingAndGlyphs" >Age (years)</text>
<text x="0" y="0" font-size="11" text-anchor="middle" fill="#1e1e1e" textLength="40.40" lengthAdjust="spacingAndGlyphs" transform="translate(287.00,345.40) rotate(-90)">Weight (kg)</text>
<rect x="307.25" y="255.60" width="205.50" height="179.00" fill="none" stroke="#1c1c1c" stroke-width="1.3" stroke-linejoin="round"/>
<path d="M55.2,654.0 55.5,650.9 56.0,646.0 56.4,641.0 57.1,634.3 57.7,627.8 58.3,621.8 59.1,615.5 59.9,610.5 60.6,606.7 61.4,603.5 63.0,598.0 64.5,593.2 66.1,589.4 67.6,586.1 69.2,583.3 70.8,581.1 73.1,578.3 75.4,575.7 77.7,573.4 80.1,571.4 83.2,569.2 84.7,568.3 86.3,567.4 87.9,566.6 90.2,565.5 94.1,563.9 98.0,562.6 101.9,561.5 105.7,560.5 106.5,560.3" fill="none" stroke="#c9c9c9" stroke-width="0.8" stroke-linejoin="round" stroke-linecap="round" />
<path d="M55.2,651.0 55.5,647.8 56.0,642.9 56.4,637.9 57.1,631.2 57.7,624.8 58.3,618.8 59.1,612.5 59.9,607.5 60.6,603.6 61.4,600.4 63.0,594.9 64.5,590.0 66.1,586.1 67.6,582.8 69.2,580.0 70.8,577.7 73.1,574.8 75.4,572.2 77.7,569.9 80.1,567.9 83.2,565.7 84.7,564.7 86.3,563.8 87.9,562.9 90.2,561.8 94.1,560.2 98.0,558.9 101.9,557.8 105.7,556.8 106.5,556.6" fill="none" stroke="#c9c9c9" stroke-width="0.8" stroke-linejoin="round" stroke-linecap="round" />
<path d="M55.2,645.9 55.5,642.8 56.0,637.9 56.4,632.9 57.1,626.2 57.7,619.7 58.3,613.8 59.1,607.4 59.9,602.4 60.6,598.5 61.4,595.2 63.0,589.6 64.5,584.7 66.1,580.7 67.6,577.3 69.2,574.4 70.8,572.1 73.1,569.1 75.4,566.4 77.7,564.1 80.1,562.0 83.2,559.7 84.7,558.7 86.3,557.8 87.9,556.9 90.2,555.7 94.1,554.0 98.0,552.7 101.9,551.6 105.7,550.6 106.5,550.4" fill="none" stroke="#c9c9c9" stroke-width="0.8" stroke-linejoin="round" stroke-linecap="round" />
<path d="M55.2,634.7 55.5,631.5 56.0,626.6 56.4,621.6 57.1,614.9 57.7,608.5 58.3,602.5 59.1,596.1 59.9,591.1 60.6,587.1 61.4,583.7 63.0,577.9 64.5,572.8 66.1,568.7 67.6,565.1 69.2,562.0 70.8,559.5 73.1,556.4 75.4,553.6 77.7,551.1 80.1,548.9 83.2,546.4 84.7,545.4 86.3,544.3 87.9,543.4 90.2,542.1 94.1,540.4 98.0,538.9 101.9,537.7 105.7,536.7 106.5,536.5" fill="none" stroke="#c9c9c9" stroke-width="0.8" stroke-linejoin="round" stroke-linecap="round" />
<path d="M55.2,629.6 55.5,626.4 56.0,621.6 56.4,616.6 57.1,609.9 57.7,603.5 58.3,597.5 59.1,591.1 59.9,586.0 60.6,581.9 61.4,578.6 63.0,572.7 64.5,567.5 66.1,563.3 67.6,559.6 69.2,556.4 70.8,553.9 73.1,550.7 75.4,547.8 77.7,545.3 80.1,543.0 83.2,540.5 84.7,539.3 86.3,538.3 87.9,537.3 90.2,536.0 94.1,534.2 98.0,532.7 101.9,531.5 105.7,530.4 106.5,530.3" fill="none" stroke="#c9c9c9" stroke-width="0.8" stroke-linejoin="round" stroke-linecap="round" />
<path d="M55.2,626.6 55.5,623.4 56.0,618.5 56.4,613.5 57.1,606.9 57.7,600.4 58.3,594.5 59.1,588.0 59.9,582.9 60.6,578.9 61.4,575.5 63.0,569.5 64.5,564.3 66.1,560.0 67.6,556.3 69.2,553.1 70.8,550.5 73.1,547.3 75.4,544.4 77.7,541.8 80.1,539.5 83.2,536.9 84.7,535.7 86.3,534.7 87.9,533.7 90.2,532.4 94.1,530.5 98.0,529.0 101.9,527.7 105.7,526.7 106.5,526.5" fill="none" stroke="#c9c9c9" stroke-width="0.8" stroke-linejoin="round" stroke-linecap="round" />
<path d="M55.2,622.3 55.5,619.4 56.0,614.8 56.4,610.2 57.1,604.1 57.7,598.6 58.3,594.1 59.1,589.4 59.9,585.2 60.6,581.3 61.4,577.8 63.0,571.7 64.5,566.6 66.1,562.6 67.6,559.3 69.2,556.4 70.8,553.6 73.1,549.6 75.4,545.8 77.7,542.4 80.1,539.4 83.2,536.1 84.7,534.6 86.3,533.2 87.9,531.8 90.2,530.0 94.1,527.3 98.0,525.1 101.9,523.3 105.7,521.8 109.6,520.5 113.5,519.2 117.4,517.8 117.7,517.7 130.0,516.4 147.6,515.1 163.7,510.0 182.6,508.0 225.0,502.3 238.7,497.8" fill="none" stroke="#c9c9c9" stroke-width="0.8" stroke-linejoin="round" stroke-linecap="round" />
<path d="M55.2,660.8 55.5,657.6 56.0,652.5 56.4,647.3 57.1,640.5 57.7,634.4 58.3,629.4 59.1,624.3 59.9,619.9 60.6,616.0 61.4,612.6 63.0,606.9 64.5,602.0 66.1,597.7 67.6,593.9 69.2,590.6 70.8,587.6 73.1,583.9 75.4,580.9 77.7,578.4 80.1,576.1 83.2,573.4 84.7,572.3 86.3,571.4 87.9,570.5 90.2,569.3 94.1,567.7 98.0,566.4 101.9,565.2 105.7,564.0 109.6,562.9 113.5,561.8 117.4,560.7 132.9,557.5 148.5,554.9 164.1,551.7 182.6,544.0 207.4,542.7 225.0,542.1 239.9,537.6" fill="none" stroke="#c9c9c9" stroke-width="0.8" stroke-linejoin="round" stroke-linecap="round" />
<path d="M55.2,633.2 55.5,629.4 56.0,623.2 56.4,616.9 57.1,608.8 57.7,601.9 58.3,596.9 59.1,592.6 59.9,589.7 60.6,587.6 61.4,585.8 63.0,581.5 64.5,577.4 66.1,573.6 67.6,570.2 69.2,566.9 70.8,564.1 73.1,561.1 75.4,558.6 77.7,556.4 80.1,554.4 83.2,552.1 84.7,551.1 86.3,550.2 87.9,549.3 90.2,548.1 94.1,546.2 98.0,544.4 101.9,542.7 105.7,540.9 109.6,539.2 113.5,537.5 116.2,536.3 120.0,535.0 130.0,533.7 144.9,529.9 162.5,528.6 195.0,524.7 209.9,522.8 225.0,520.2 239.5,517.0" fill="none" stroke="#1a1a1a" stroke-width="1.2" stroke-linejoin="round" stroke-linecap="round" />
<text x="106.2" y="529.1" font-size="4.9" fill="#444" textLength="7.3" lengthAdjust="spacingAndGlyphs">P95</text>
<text x="106.2" y="534.0" font-size="4.9" fill="#444" textLength="7.3" lengthAdjust="spacingAndGlyphs">P90</text>
<text x="106.2" y="539.4" font-size="4.9" fill="#444" textLength="7.3" lengthAdjust="spacingAndGlyphs">P75</text>
<text x="106.2" y="553.2" font-size="4.9" fill="#444" textLength="7.3" lengthAdjust="spacingAndGlyphs">P25</text>
<text x="106.2" y="559.4" font-size="4.9" fill="#444" textLength="7.3" lengthAdjust="spacingAndGlyphs">P10</text>
<text x="106.2" y="565.1" font-size="4.9" fill="#444" textLength="4.9" lengthAdjust="spacingAndGlyphs">P5</text>
<text x="241.0" y="500.1" font-size="4.9" fill="#444" textLength="7.3" lengthAdjust="spacingAndGlyphs">P97</text>
<text x="241.8" y="519.4" font-size="4.9" fill="#444" textLength="7.3" lengthAdjust="spacingAndGlyphs">P50</text>
<text x="241.8" y="538.9" font-size="4.9" fill="#444" textLength="4.9" lengthAdjust="spacingAndGlyphs">P3</text>
<path d="M57.9,607.2 68.8,581.4 77.8,577.9 86.2,578.1 100.0,571.0 120.0,556.2 177.5,548.8" fill="none" stroke="#36538f" stroke-width="1.15" stroke-linejoin="round" stroke-linecap="round" />
<rect x="57.0" y="606.4" width="1.7" height="1.7" fill="#36538f"/>
<rect x="68.0" y="580.5" width="1.7" height="1.7" fill="#36538f"/>
<rect x="77.0" y="577.0" width="1.7" height="1.7" fill="#36538f"/>
<rect x="85.4" y="577.2" width="1.7" height="1.7" fill="#36538f"/>
<rect x="99.2" y="570.1" width="1.7" height="1.7" fill="#36538f"/>
<rect x="119.2" y="555.4" width="1.7" height="1.7" fill="#36538f"/>
<rect x="176.7" y="547.9" width="1.7" height="1.7" fill="#36538f"/>
<path d="M57.9,599.8 69.2,552.3 78.5,541.9 86.0,532.7 93.4,528.6 98.1,529.5 120.0,529.8 156.2,525.5 171.2,523.8" fill="none" stroke="#36538f" stroke-width="1.15" stroke-linejoin="round" stroke-linecap="round" />
<rect x="57.0" y="598.9" width="1.7" height="1.7" fill="#36538f"/>
<rect x="68.4" y="551.4" width="1.7" height="1.7" fill="#36538f"/>
<rect x="77.7" y="541.0" width="1.7" height="1.7" fill="#36538f"/>
<rect x="85.2" y="531.9" width="1.7" height="1.7" fill="#36538f"/>
<rect x="92.6" y="527.8" width="1.7" height="1.7" fill="#36538f"/>
<rect x="97.2" y="528.6" width="1.7" height="1.7" fill="#36538f"/>
<rect x="119.2" y="528.9" width="1.7" height="1.7" fill="#36538f"/>
<rect x="155.4" y="524.6" width="1.7" height="1.7" fill="#36538f"/>
<rect x="170.4" y="522.9" width="1.7" height="1.7" fill="#36538f"/>
<path d="M72.0,565.0 84.8,549.4 106.1,524.0 120.0,522.3 145.0,518.0 167.5,513.8" fill="none" stroke="#36538f" stroke-width="1.15" stroke-linejoin="round" stroke-linecap="round" />
<rect x="71.2" y="564.1" width="1.7" height="1.7" fill="#36538f"/>
<rect x="84.0" y="548.5" width="1.7" height="1.7" fill="#36538f"/>
<rect x="105.2" y="523.1" width="1.7" height="1.7" fill="#36538f"/>
<rect x="119.2" y="521.4" width="1.7" height="1.7" fill="#36538f"/>
<rect x="144.2" y="517.1" width="1.7" height="1.7" fill="#36538f"/>
<rect x="166.7" y="512.9" width="1.7" height="1.7" fill="#36538f"/>
<path d="M57.9,599.8 70.0,570.0 78.5,552.3 94.6,536.1 102.7,535.6 120.0,533.8 145.0,522.0 156.2,517.0 178.8,517.0" fill="none" stroke="#36538f" stroke-width="1.15" stroke-linejoin="round" stroke-linecap="round" />
<rect x="57.0" y="598.9" width="1.7" height="1.7" fill="#36538f"/>
<rect x="69.2" y="569.1" width="1.7" height="1.7" fill="#36538f"/>
<rect x="77.7" y="551.4" width="1.7" height="1.7" fill="#36538f"/>
<rect x="93.8" y="535.2" width="1.7" height="1.7" fill="#36538f"/>
<rect x="101.9" y="534.8" width="1.7" height="1.7" fill="#36538f"/>
<rect x="119.2" y="532.9" width="1.7" height="1.7" fill="#36538f"/>
<rect x="144.2" y="521.1" width="1.7" height="1.7" fill="#36538f"/>
<rect x="155.4" y="516.1" width="1.7" height="1.7" fill="#36538f"/>
<rect x="177.9" y="516.1" width="1.7" height="1.7" fill="#36538f"/>
<path d="M71.5,564.4 90.0,557.5 102.7,555.7 110.7,555.7 128.8,542.5 148.8,542.5 168.8,540.0 185.0,532.5 203.8,531.2 216.2,531.2" fill="none" stroke="#36538f" stroke-width="1.15" stroke-linejoin="round" stroke-linecap="round" />
<rect x="70.7" y="563.5" width="1.7" height="1.7" fill="#36538f"/>
<rect x="89.2" y="556.6" width="1.7" height="1.7" fill="#36538f"/>
<rect x="101.9" y="554.9" width="1.7" height="1.7" fill="#36538f"/>
<rect x="109.9" y="554.9" width="1.7" height="1.7" fill="#36538f"/>
<rect x="127.9" y="541.6" width="1.7" height="1.7" fill="#36538f"/>
<rect x="147.9" y="541.6" width="1.7" height="1.7" fill="#36538f"/>
<rect x="167.9" y="539.1" width="1.7" height="1.7" fill="#36538f"/>
<rect x="184.2" y="531.6" width="1.7" height="1.7" fill="#36538f"/>
<rect x="202.9" y="530.4" width="1.7" height="1.7" fill="#36538f"/>
<rect x="215.4" y="530.4" width="1.7" height="1.7" fill="#36538f"/>
<path d="M68.8,575.0 84.2,546.5 95.8,553.4 120.0,544.8 157.5,545.0 171.2,544.5" fill="none" stroke="#36538f" stroke-width="1.15" stroke-linejoin="round" stroke-linecap="round" />
<rect x="68.0" y="574.1" width="1.7" height="1.7" fill="#36538f"/>
<rect x="83.4" y="545.6" width="1.7" height="1.7" fill="#36538f"/>
<rect x="95.0" y="552.5" width="1.7" height="1.7" fill="#36538f"/>
<rect x="119.2" y="543.9" width="1.7" height="1.7" fill="#36538f"/>
<rect x="156.7" y="544.1" width="1.7" height="1.7" fill="#36538f"/>
<rect x="170.4" y="543.6" width="1.7" height="1.7" fill="#36538f"/>
<path d="M68.0,566.0 78.5,541.9 83.1,538.4 90.0,539.6 100.0,537.0 110.0,532.0 130.0,528.0 150.0,524.0" fill="none" stroke="#36538f" stroke-width="1.15" stroke-linejoin="round" stroke-linecap="round" />
<rect x="67.2" y="565.1" width="1.7" height="1.7" fill="#36538f"/>
<rect x="77.7" y="541.0" width="1.7" height="1.7" fill="#36538f"/>
<rect x="82.2" y="537.5" width="1.7" height="1.7" fill="#36538f"/>
<rect x="89.2" y="538.8" width="1.7" height="1.7" fill="#36538f"/>
<rect x="99.2" y="536.1" width="1.7" height="1.7" fill="#36538f"/>
<rect x="109.2" y="531.1" width="1.7" height="1.7" fill="#36538f"/>
<rect x="129.2" y="527.1" width="1.7" height="1.7" fill="#36538f"/>
<rect x="149.2" y="523.1" width="1.7" height="1.7" fill="#36538f"/>
<path d="M57.9,607.2 70.0,578.0 85.0,566.0 100.0,560.0 115.0,556.0 127.5,553.8 167.5,541.2 185.0,533.0 202.5,531.2" fill="none" stroke="#36538f" stroke-width="1.15" stroke-linejoin="round" stroke-linecap="round" />
<rect x="57.0" y="606.4" width="1.7" height="1.7" fill="#36538f"/>
<rect x="69.2" y="577.1" width="1.7" height="1.7" fill="#36538f"/>
<rect x="84.2" y="565.1" width="1.7" height="1.7" fill="#36538f"/>
<rect x="99.2" y="559.1" width="1.7" height="1.7" fill="#36538f"/>
<rect x="114.2" y="555.1" width="1.7" height="1.7" fill="#36538f"/>
<rect x="126.7" y="552.9" width="1.7" height="1.7" fill="#36538f"/>
<rect x="166.7" y="540.4" width="1.7" height="1.7" fill="#36538f"/>
<rect x="184.2" y="532.1" width="1.7" height="1.7" fill="#36538f"/>
<rect x="201.7" y="530.4" width="1.7" height="1.7" fill="#36538f"/>
<path d="M181.2,548.8 221.2,548.8" fill="none" stroke="#36538f" stroke-width="1.15" stroke-linejoin="round" stroke-linecap="round" />
<rect x="180.4" y="547.9" width="1.7" height="1.7" fill="#36538f"/>
<rect x="220.4" y="547.9" width="1.7" height="1.7" fill="#36538f"/>
<path d="M66.0,572.0 75.0,555.0 86.0,540.0 95.0,534.0 110.0,528.0 125.0,526.0" fill="none" stroke="#36538f" stroke-width="1.15" stroke-linejoin="round" stroke-linecap="round" />
<rect x="65.2" y="571.1" width="1.7" height="1.7" fill="#36538f"/>
<rect x="74.2" y="554.1" width="1.7" height="1.7" fill="#36538f"/>
<rect x="85.2" y="539.1" width="1.7" height="1.7" fill="#36538f"/>
<rect x="94.2" y="533.1" width="1.7" height="1.7" fill="#36538f"/>
<rect x="109.2" y="527.1" width="1.7" height="1.7" fill="#36538f"/>
<rect x="124.2" y="525.1" width="1.7" height="1.7" fill="#36538f"/>
<text x="6.90" y="486.60" font-size="12.2" text-anchor="start" font-weight="bold" fill="#111" >C</text>
<text x="148.50" y="484.60" font-size="10.5" text-anchor="middle" font-weight="normal" fill="#1e1e1e" textLength="121.70" lengthAdjust="spacingAndGlyphs" >Head Circumference - Boys</text>
<line x1="42.30" y1="639.00" x2="45.50" y2="639.00" stroke="#1c1c1c" stroke-width="1"/>
<text x="39.60" y="642.00" font-size="9.2" text-anchor="end" font-weight="normal" fill="#1e1e1e" textLength="9.10" lengthAdjust="spacingAndGlyphs" >35</text>
<line x1="42.30" y1="606.90" x2="45.50" y2="606.90" stroke="#1c1c1c" stroke-width="1"/>
<text x="39.60" y="609.90" font-size="9.2" text-anchor="end" font-weight="normal" fill="#1e1e1e" textLength="9.10" lengthAdjust="spacingAndGlyphs" >40</text>
<line x1="42.30" y1="574.80" x2="45.50" y2="574.80" stroke="#1c1c1c" stroke-width="1"/>
<text x="39.60" y="577.80" font-size="9.2" text-anchor="end" font-weight="normal" fill="#1e1e1e" textLength="9.10" lengthAdjust="spacingAndGlyphs" >45</text>
<line x1="42.30" y1="542.70" x2="45.50" y2="542.70" stroke="#1c1c1c" stroke-width="1"/>
<text x="39.60" y="545.70" font-size="9.2" text-anchor="end" font-weight="normal" fill="#1e1e1e" textLength="9.10" lengthAdjust="spacingAndGlyphs" >50</text>
<line x1="42.30" y1="510.60" x2="45.50" y2="510.60" stroke="#1c1c1c" stroke-width="1"/>
<text x="39.60" y="513.60" font-size="9.2" text-anchor="end" font-weight="normal" fill="#1e1e1e" textLength="9.10" lengthAdjust="spacingAndGlyphs" >55</text>
<line x1="55.20" y1="669.40" x2="55.20" y2="672.60" stroke="#1c1c1c" stroke-width="1"/>
<text x="55.20" y="683.00" font-size="9.2" text-anchor="middle" font-weight="normal" fill="#1e1e1e" textLength="4.55" lengthAdjust="spacingAndGlyphs" >0</text>
<line x1="70.75" y1="669.40" x2="70.75" y2="672.60" stroke="#1c1c1c" stroke-width="1"/>
<text x="70.75" y="683.00" font-size="9.2" text-anchor="middle" font-weight="normal" fill="#1e1e1e" textLength="4.55" lengthAdjust="spacingAndGlyphs" >1</text>
<line x1="86.30" y1="669.40" x2="86.30" y2="672.60" stroke="#1c1c1c" stroke-width="1"/>
<text x="86.30" y="683.00" font-size="9.2" text-anchor="middle" font-weight="normal" fill="#1e1e1e" textLength="4.55" lengthAdjust="spacingAndGlyphs" >2</text>
<line x1="101.85" y1="669.40" x2="101.85" y2="672.60" stroke="#1c1c1c" stroke-width="1"/>
<text x="101.85" y="683.00" font-size="9.2" text-anchor="middle" font-weight="normal" fill="#1e1e1e" textLength="4.55" lengthAdjust="spacingAndGlyphs" >3</text>
<line x1="117.40" y1="669.40" x2="117.40" y2="672.60" stroke="#1c1c1c" stroke-width="1"/>
<text x="117.40" y="683.00" font-size="9.2" text-anchor="middle" font-weight="normal" fill="#1e1e1e" textLength="4.55" lengthAdjust="spacingAndGlyphs" >4</text>
<line x1="132.95" y1="669.40" x2="132.95" y2="672.60" stroke="#1c1c1c" stroke-width="1"/>
<text x="132.95" y="683.00" font-size="9.2" text-anchor="middle" font-weight="normal" fill="#1e1e1e" textLength="4.55" lengthAdjust="spacingAndGlyphs" >5</text>
<line x1="148.50" y1="669.40" x2="148.50" y2="672.60" stroke="#1c1c1c" stroke-width="1"/>
<text x="148.50" y="683.00" font-size="9.2" text-anchor="middle" font-weight="normal" fill="#1e1e1e" textLength="4.55" lengthAdjust="spacingAndGlyphs" >6</text>
<line x1="164.05" y1="669.40" x2="164.05" y2="672.60" stroke="#1c1c1c" stroke-width="1"/>
<text x="164.05" y="683.00" font-size="9.2" text-anchor="middle" font-weight="normal" fill="#1e1e1e" textLength="4.55" lengthAdjust="spacingAndGlyphs" >7</text>
<line x1="179.60" y1="669.40" x2="179.60" y2="672.60" stroke="#1c1c1c" stroke-width="1"/>
<text x="179.60" y="683.00" font-size="9.2" text-anchor="middle" font-weight="normal" fill="#1e1e1e" textLength="4.55" lengthAdjust="spacingAndGlyphs" >8</text>
<line x1="195.15" y1="669.40" x2="195.15" y2="672.60" stroke="#1c1c1c" stroke-width="1"/>
<text x="195.15" y="683.00" font-size="9.2" text-anchor="middle" font-weight="normal" fill="#1e1e1e" textLength="4.55" lengthAdjust="spacingAndGlyphs" >9</text>
<line x1="210.70" y1="669.40" x2="210.70" y2="672.60" stroke="#1c1c1c" stroke-width="1"/>
<text x="210.70" y="683.00" font-size="9.2" text-anchor="middle" font-weight="normal" fill="#1e1e1e" textLength="9.10" lengthAdjust="spacingAndGlyphs" >10</text>
<line x1="226.25" y1="669.40" x2="226.25" y2="672.60" stroke="#1c1c1c" stroke-width="1"/>
<text x="226.25" y="683.00" font-size="9.2" text-anchor="middle" font-weight="normal" fill="#1e1e1e" textLength="9.10" lengthAdjust="spacingAndGlyphs" >11</text>
<line x1="241.80" y1="669.40" x2="241.80" y2="672.60" stroke="#1c1c1c" stroke-width="1"/>
<text x="241.80" y="683.00" font-size="9.2" text-anchor="middle" font-weight="normal" fill="#1e1e1e" textLength="9.10" lengthAdjust="spacingAndGlyphs" >12</text>
<text x="148.00" y="696.80" font-size="11" text-anchor="middle" font-weight="normal" fill="#1e1e1e" textLength="38.70" lengthAdjust="spacingAndGlyphs" >Age (years)</text>
<text x="0" y="0" font-size="11" text-anchor="middle" fill="#1e1e1e" textLength="28.50" lengthAdjust="spacingAndGlyphs" transform="translate(24.50,579.50) rotate(-90)">HC (cm)</text>
<rect x="45.50" y="490.40" width="205.75" height="179.00" fill="none" stroke="#1c1c1c" stroke-width="1.3" stroke-linejoin="round"/>
<path d="M316.5,661.3 316.8,658.5 317.3,654.1 317.7,649.6 318.4,643.7 319.0,637.9 319.6,632.5 320.4,626.6 321.1,621.9 321.9,618.0 322.7,614.7 324.2,608.9 325.8,603.8 327.4,599.8 328.9,596.1 330.4,592.9 332.0,590.3 334.3,587.1 336.6,584.1 339.0,581.5 341.3,579.2 344.4,576.7 345.9,575.6 347.5,574.5 349.1,573.4 351.4,571.8 355.2,569.4 359.1,567.4 363.0,565.6" fill="none" stroke="#c9c9c9" stroke-width="0.8" stroke-linejoin="round" stroke-linecap="round" />
<path d="M316.5,658.2 316.8,655.4 317.3,651.0 317.7,646.5 318.4,640.5 319.0,634.7 319.6,629.3 320.4,623.4 321.1,618.7 321.9,614.7 322.7,611.4 324.2,605.5 325.8,600.5 327.4,596.3 328.9,592.6 330.4,589.4 332.0,586.8 334.3,583.5 336.6,580.5 339.0,577.8 341.3,575.5 344.4,573.0 345.9,571.8 347.5,570.7 349.1,569.5 351.4,567.9 355.2,565.5 359.1,563.5 363.0,561.6" fill="none" stroke="#c9c9c9" stroke-width="0.8" stroke-linejoin="round" stroke-linecap="round" />
<path d="M316.5,653.1 316.8,650.2 317.3,645.8 317.7,641.3 318.4,635.3 319.0,629.4 319.6,624.0 320.4,618.1 321.1,613.3 321.9,609.3 322.7,605.9 324.2,600.0 325.8,594.8 327.4,590.6 328.9,586.8 330.4,583.5 332.0,580.8 334.3,577.4 336.6,574.4 339.0,571.7 341.3,569.3 344.4,566.7 345.9,565.5 347.5,564.3 349.1,563.1 351.4,561.5 355.2,559.0 359.1,556.9 363.0,555.0" fill="none" stroke="#c9c9c9" stroke-width="0.8" stroke-linejoin="round" stroke-linecap="round" />
<path d="M316.5,641.7 316.8,638.8 317.3,634.3 317.7,629.7 318.4,623.6 319.0,617.7 319.6,612.2 320.4,606.2 321.1,601.3 321.9,597.2 322.7,593.8 324.2,587.6 325.8,582.3 327.4,577.9 328.9,573.9 330.4,570.4 332.0,567.5 334.3,564.0 336.6,560.8 339.0,558.0 341.3,555.5 344.4,552.7 345.9,551.4 347.5,550.1 349.1,548.9 351.4,547.2 355.2,544.6 359.1,542.4 363.0,540.4" fill="none" stroke="#c9c9c9" stroke-width="0.8" stroke-linejoin="round" stroke-linecap="round" />
<path d="M316.5,636.5 316.8,633.6 317.3,629.1 317.7,624.5 318.4,618.4 319.0,612.4 319.6,606.9 320.4,600.8 321.1,595.9 321.9,591.8 322.7,588.3 324.2,582.1 325.8,576.7 327.4,572.2 328.9,568.1 330.4,564.5 332.0,561.6 334.3,557.9 336.6,554.7 339.0,551.9 341.3,549.3 344.4,546.4 345.9,545.0 347.5,543.7 349.1,542.5 351.4,540.7 355.2,538.1 359.1,535.8 363.0,533.8" fill="none" stroke="#c9c9c9" stroke-width="0.8" stroke-linejoin="round" stroke-linecap="round" />
<path d="M316.5,633.4 316.8,630.5 317.3,626.0 317.7,621.4 318.4,615.2 319.0,609.3 319.6,603.7 320.4,597.6 321.1,592.7 321.9,588.5 322.7,585.0 324.2,578.8 325.8,573.3 327.4,568.8 328.9,564.7 330.4,561.0 332.0,558.0 334.3,554.3 336.6,551.1 339.0,548.2 341.3,545.5 344.4,542.6 345.9,541.2 347.5,539.9 349.1,538.6 351.4,536.8 355.2,534.2 359.1,531.9 363.0,529.9" fill="none" stroke="#c9c9c9" stroke-width="0.8" stroke-linejoin="round" stroke-linecap="round" />
<path d="M316.5,631.1 316.8,628.0 317.3,623.2 317.7,618.2 318.4,611.8 319.0,606.0 319.6,601.3 320.4,596.7 321.1,592.8 321.9,589.5 322.7,586.6 324.2,580.9 325.8,575.8 327.4,571.5 328.9,567.3 330.4,563.4 332.0,559.9 334.3,555.4 336.6,551.3 339.0,548.0 341.3,545.1 344.4,541.5 345.9,539.9 347.5,538.3 349.1,536.9 351.4,534.9 355.2,532.1 359.1,529.6 363.0,527.3 366.9,524.9 370.8,522.7 374.6,520.6 378.3,518.6 409.0,517.2 425.8,511.1 473.0,504.5 502.5,498.9" fill="none" stroke="#c9c9c9" stroke-width="0.8" stroke-linejoin="round" stroke-linecap="round" />
<path d="M316.5,658.9 316.8,656.3 317.3,652.3 317.7,648.3 318.4,643.0 319.0,638.1 319.6,633.8 320.4,629.2 321.1,624.9 321.9,621.0 322.7,617.4 324.2,611.4 325.8,606.8 327.4,602.7 328.9,599.2 330.4,596.1 332.0,593.1 334.3,589.3 336.6,586.1 339.0,583.2 341.3,580.4 344.4,577.0 345.9,575.5 347.5,574.2 349.1,572.9 351.4,571.1 355.2,568.2 359.1,565.6 363.0,563.3 366.9,561.4 370.8,559.8 374.6,558.3 378.3,556.9 386.7,551.8 409.0,551.8 425.8,547.0 471.5,544.3 487.0,539.6 502.5,538.9" fill="none" stroke="#c9c9c9" stroke-width="0.8" stroke-linejoin="round" stroke-linecap="round" />
<path d="M316.5,642.0 316.8,638.4 317.3,632.6 317.7,627.0 318.4,620.8 319.0,616.5 319.6,613.0 320.4,609.3 321.1,606.2 321.9,603.2 322.7,600.3 324.2,594.9 325.8,590.2 327.4,586.3 328.9,583.0 330.4,580.1 332.0,577.4 334.3,573.9 336.6,570.9 339.0,568.4 341.3,566.0 344.4,562.6 345.9,560.9 347.5,559.3 349.1,557.7 351.4,555.8 355.2,553.1 359.1,550.6 363.0,548.2 366.9,545.7 370.8,543.1 374.6,540.6 377.3,538.9 383.1,536.9 393.4,535.5 410.4,535.5 425.8,529.0 450.9,526.3 471.5,524.0 487.0,519.6 502.5,517.9" fill="none" stroke="#1a1a1a" stroke-width="1.2" stroke-linejoin="round" stroke-linecap="round" />
<text x="364.0" y="532.4" font-size="4.9" fill="#444" textLength="7.3" lengthAdjust="spacingAndGlyphs">P95</text>
<text x="364.0" y="537.8" font-size="4.9" fill="#444" textLength="7.3" lengthAdjust="spacingAndGlyphs">P90</text>
<text x="364.0" y="542.3" font-size="4.9" fill="#444" textLength="7.3" lengthAdjust="spacingAndGlyphs">P75</text>
<text x="364.0" y="556.9" font-size="4.9" fill="#444" textLength="7.3" lengthAdjust="spacingAndGlyphs">P25</text>
<text x="364.0" y="562.3" font-size="4.9" fill="#444" textLength="7.3" lengthAdjust="spacingAndGlyphs">P10</text>
<text x="364.0" y="567.9" font-size="4.9" fill="#444" textLength="4.9" lengthAdjust="spacingAndGlyphs">P5</text>
<text x="503.3" y="500.3" font-size="4.9" fill="#444" textLength="7.3" lengthAdjust="spacingAndGlyphs">P97</text>
<text x="504.1" y="519.8" font-size="4.9" fill="#444" textLength="7.3" lengthAdjust="spacingAndGlyphs">P50</text>
<text x="504.1" y="540.8" font-size="4.9" fill="#444" textLength="4.9" lengthAdjust="spacingAndGlyphs">P3</text>
<path d="M365.2,531.0 380.2,540.2" fill="none" stroke="#c0173d" stroke-width="1.25" stroke-linejoin="round" stroke-linecap="round" />
<rect x="364.3" y="530.1" width="1.7" height="1.7" fill="#c0173d"/>
<rect x="379.3" y="539.4" width="1.7" height="1.7" fill="#c0173d"/>
<path d="M365.2,532.1 383.6,540.5 399.2,531.8" fill="none" stroke="#c0173d" stroke-width="1.25" stroke-linejoin="round" stroke-linecap="round" />
<rect x="364.3" y="531.2" width="1.7" height="1.7" fill="#c0173d"/>
<rect x="382.8" y="539.6" width="1.7" height="1.7" fill="#c0173d"/>
<rect x="398.3" y="530.9" width="1.7" height="1.7" fill="#c0173d"/>
<path d="M351.3,547.7 355.6,545.1 359.1,552.5" fill="none" stroke="#c0173d" stroke-width="1.25" stroke-linejoin="round" stroke-linecap="round" />
<rect x="350.4" y="546.9" width="1.7" height="1.7" fill="#c0173d"/>
<rect x="354.8" y="544.2" width="1.7" height="1.7" fill="#c0173d"/>
<rect x="358.2" y="551.6" width="1.7" height="1.7" fill="#c0173d"/>
<path d="M364.6,549.1 374.4,549.1 382.5,549.1" fill="none" stroke="#c0173d" stroke-width="1.25" stroke-linejoin="round" stroke-linecap="round" />
<rect x="363.8" y="548.2" width="1.7" height="1.7" fill="#c0173d"/>
<rect x="373.5" y="548.2" width="1.7" height="1.7" fill="#c0173d"/>
<rect x="381.6" y="548.2" width="1.7" height="1.7" fill="#c0173d"/>
<rect x="400.3" y="551.6" width="1.7" height="1.7" fill="#c0173d"/>
<text x="269.15" y="486.50" font-size="12.2" text-anchor="start" font-weight="bold" fill="#111" >F</text>
<text x="410.30" y="484.40" font-size="10.5" text-anchor="middle" font-weight="normal" fill="#1e1e1e" textLength="120.00" lengthAdjust="spacingAndGlyphs" >Head Circumference - Girls</text>
<line x1="303.80" y1="640.60" x2="307.00" y2="640.60" stroke="#1c1c1c" stroke-width="1"/>
<text x="301.10" y="643.60" font-size="9.2" text-anchor="end" font-weight="normal" fill="#1e1e1e" textLength="9.10" lengthAdjust="spacingAndGlyphs" >35</text>
<line x1="303.80" y1="606.70" x2="307.00" y2="606.70" stroke="#1c1c1c" stroke-width="1"/>
<text x="301.10" y="609.70" font-size="9.2" text-anchor="end" font-weight="normal" fill="#1e1e1e" textLength="9.10" lengthAdjust="spacingAndGlyphs" >40</text>
<line x1="303.80" y1="572.80" x2="307.00" y2="572.80" stroke="#1c1c1c" stroke-width="1"/>
<text x="301.10" y="575.80" font-size="9.2" text-anchor="end" font-weight="normal" fill="#1e1e1e" textLength="9.10" lengthAdjust="spacingAndGlyphs" >45</text>
<line x1="303.80" y1="538.90" x2="307.00" y2="538.90" stroke="#1c1c1c" stroke-width="1"/>
<text x="301.10" y="541.90" font-size="9.2" text-anchor="end" font-weight="normal" fill="#1e1e1e" textLength="9.10" lengthAdjust="spacingAndGlyphs" >50</text>
<line x1="303.80" y1="505.00" x2="307.00" y2="505.00" stroke="#1c1c1c" stroke-width="1"/>
<text x="301.10" y="508.00" font-size="9.2" text-anchor="end" font-weight="normal" fill="#1e1e1e" textLength="9.10" lengthAdjust="spacingAndGlyphs" >55</text>
<line x1="316.50" y1="669.40" x2="316.50" y2="672.60" stroke="#1c1c1c" stroke-width="1"/>
<text x="316.50" y="683.00" font-size="9.2" text-anchor="middle" font-weight="normal" fill="#1e1e1e" textLength="4.55" lengthAdjust="spacingAndGlyphs" >0</text>
<line x1="332.00" y1="669.40" x2="332.00" y2="672.60" stroke="#1c1c1c" stroke-width="1"/>
<text x="332.00" y="683.00" font-size="9.2" text-anchor="middle" font-weight="normal" fill="#1e1e1e" textLength="4.55" lengthAdjust="spacingAndGlyphs" >1</text>
<line x1="347.50" y1="669.40" x2="347.50" y2="672.60" stroke="#1c1c1c" stroke-width="1"/>
<text x="347.50" y="683.00" font-size="9.2" text-anchor="middle" font-weight="normal" fill="#1e1e1e" textLength="4.55" lengthAdjust="spacingAndGlyphs" >2</text>
<line x1="363.00" y1="669.40" x2="363.00" y2="672.60" stroke="#1c1c1c" stroke-width="1"/>
<text x="363.00" y="683.00" font-size="9.2" text-anchor="middle" font-weight="normal" fill="#1e1e1e" textLength="4.55" lengthAdjust="spacingAndGlyphs" >3</text>
<line x1="378.50" y1="669.40" x2="378.50" y2="672.60" stroke="#1c1c1c" stroke-width="1"/>
<text x="378.50" y="683.00" font-size="9.2" text-anchor="middle" font-weight="normal" fill="#1e1e1e" textLength="4.55" lengthAdjust="spacingAndGlyphs" >4</text>
<line x1="394.00" y1="669.40" x2="394.00" y2="672.60" stroke="#1c1c1c" stroke-width="1"/>
<text x="394.00" y="683.00" font-size="9.2" text-anchor="middle" font-weight="normal" fill="#1e1e1e" textLength="4.55" lengthAdjust="spacingAndGlyphs" >5</text>
<line x1="409.50" y1="669.40" x2="409.50" y2="672.60" stroke="#1c1c1c" stroke-width="1"/>
<text x="409.50" y="683.00" font-size="9.2" text-anchor="middle" font-weight="normal" fill="#1e1e1e" textLength="4.55" lengthAdjust="spacingAndGlyphs" >6</text>
<line x1="425.00" y1="669.40" x2="425.00" y2="672.60" stroke="#1c1c1c" stroke-width="1"/>
<text x="425.00" y="683.00" font-size="9.2" text-anchor="middle" font-weight="normal" fill="#1e1e1e" textLength="4.55" lengthAdjust="spacingAndGlyphs" >7</text>
<line x1="440.50" y1="669.40" x2="440.50" y2="672.60" stroke="#1c1c1c" stroke-width="1"/>
<text x="440.50" y="683.00" font-size="9.2" text-anchor="middle" font-weight="normal" fill="#1e1e1e" textLength="4.55" lengthAdjust="spacingAndGlyphs" >8</text>
<line x1="456.00" y1="669.40" x2="456.00" y2="672.60" stroke="#1c1c1c" stroke-width="1"/>
<text x="456.00" y="683.00" font-size="9.2" text-anchor="middle" font-weight="normal" fill="#1e1e1e" textLength="4.55" lengthAdjust="spacingAndGlyphs" >9</text>
<line x1="471.50" y1="669.40" x2="471.50" y2="672.60" stroke="#1c1c1c" stroke-width="1"/>
<text x="471.50" y="683.00" font-size="9.2" text-anchor="middle" font-weight="normal" fill="#1e1e1e" textLength="9.10" lengthAdjust="spacingAndGlyphs" >10</text>
<line x1="487.00" y1="669.40" x2="487.00" y2="672.60" stroke="#1c1c1c" stroke-width="1"/>
<text x="487.00" y="683.00" font-size="9.2" text-anchor="middle" font-weight="normal" fill="#1e1e1e" textLength="9.10" lengthAdjust="spacingAndGlyphs" >11</text>
<line x1="502.50" y1="669.40" x2="502.50" y2="672.60" stroke="#1c1c1c" stroke-width="1"/>
<text x="502.50" y="683.00" font-size="9.2" text-anchor="middle" font-weight="normal" fill="#1e1e1e" textLength="9.10" lengthAdjust="spacingAndGlyphs" >12</text>
<text x="410.10" y="696.80" font-size="11" text-anchor="middle" font-weight="normal" fill="#1e1e1e" textLength="38.70" lengthAdjust="spacingAndGlyphs" >Age (years)</text>
<text x="0" y="0" font-size="11" text-anchor="middle" fill="#1e1e1e" textLength="28.50" lengthAdjust="spacingAndGlyphs" transform="translate(286.90,579.50) rotate(-90)">HC (cm)</text>
<rect x="307.00" y="490.40" width="205.75" height="179.00" fill="none" stroke="#1c1c1c" stroke-width="1.3" stroke-linejoin="round"/><rect x="0.5" y="0.5" width="519" height="705" fill="none" stroke="#111" stroke-width="1.2"/></svg></body></html>
